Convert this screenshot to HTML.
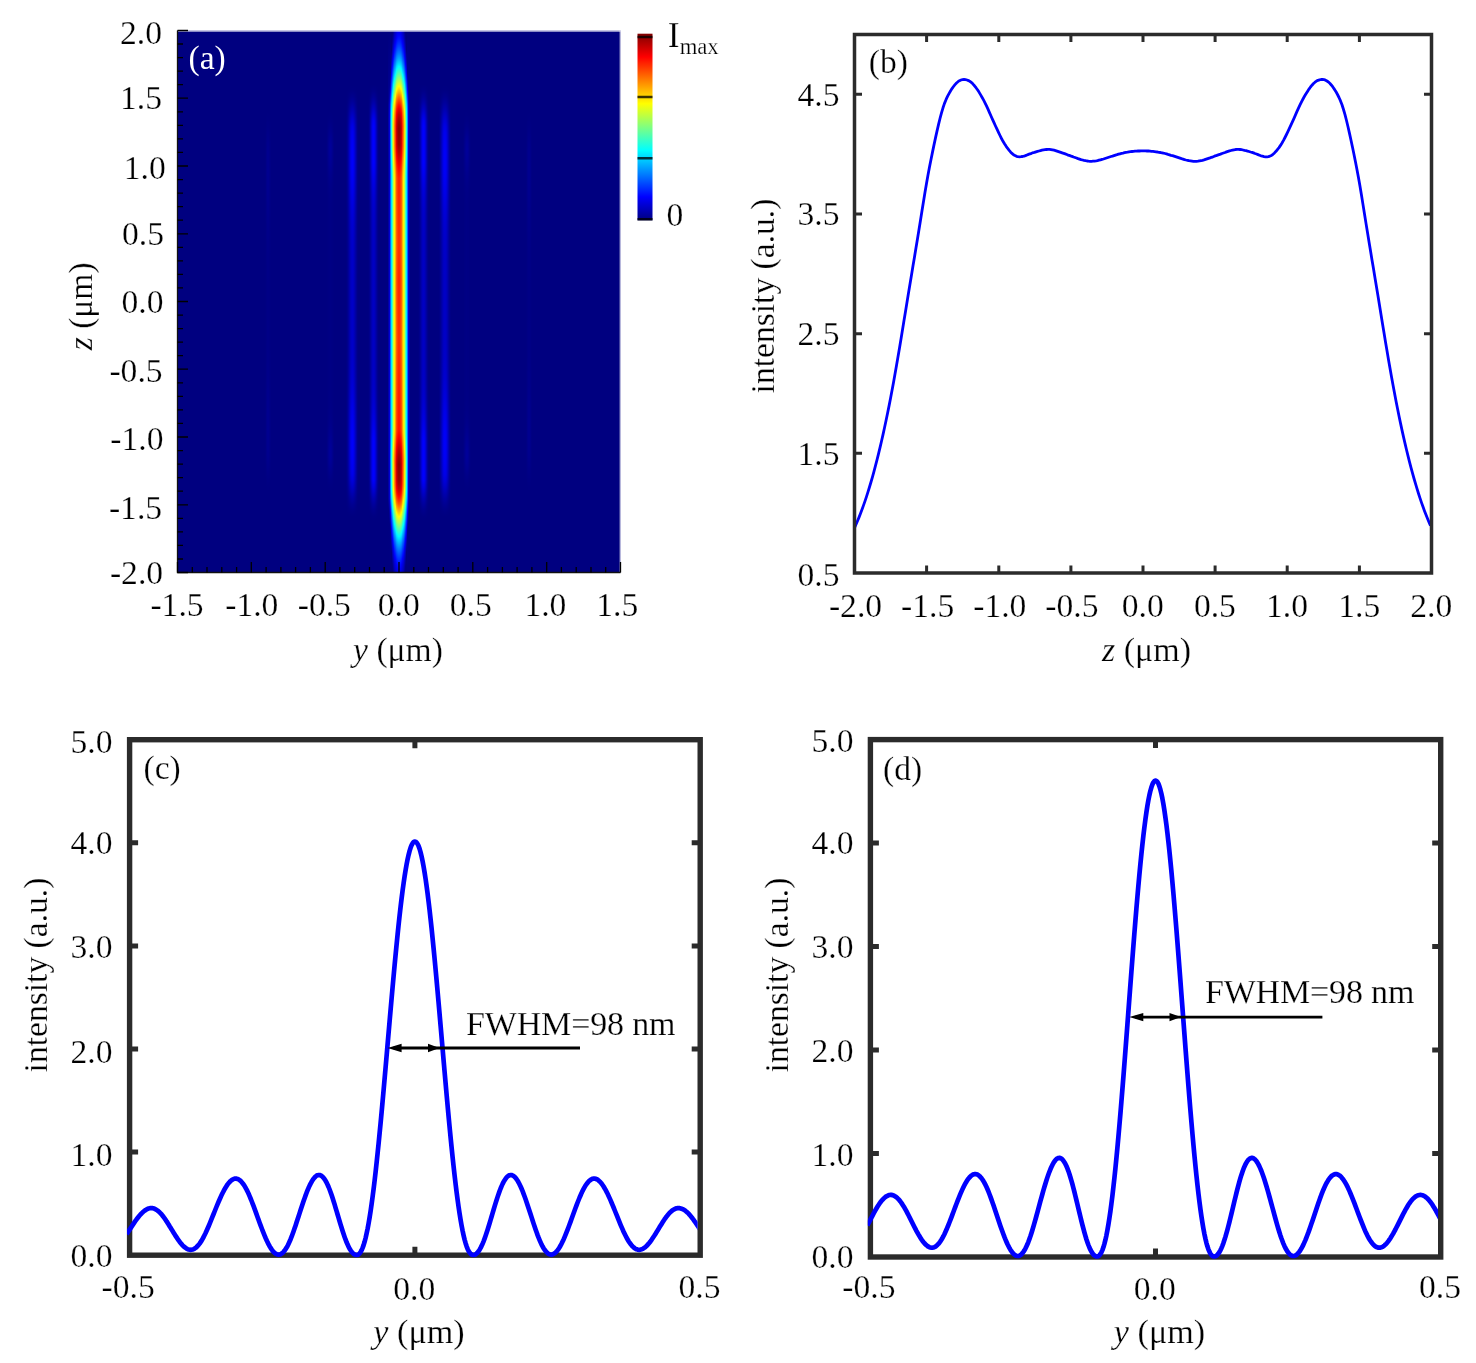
<!DOCTYPE html>
<html><head><meta charset="utf-8"><title>figure</title>
<style>html,body{margin:0;padding:0;background:#fff}svg{display:block;font-family:'Liberation Serif',serif;will-change:transform}.t{stroke:#fff;stroke-width:.25px;paint-order:fill stroke}</style>
</head><body>
<svg width="1476" height="1363" viewBox="0 0 1476 1363">
<defs>
<clipPath id="ca"><rect x="177.5" y="30.5" width="443" height="542"/></clipPath>
<linearGradient id="m0" x1="0" y1="0" x2="0" y2="1"><stop offset="0.0000" stop-color="#0000e9"/><stop offset="0.0074" stop-color="#0000fb"/><stop offset="0.0148" stop-color="#0011ff"/><stop offset="0.0221" stop-color="#0029ff"/><stop offset="0.0258" stop-color="#0036ff"/><stop offset="0.0295" stop-color="#0044ff"/><stop offset="0.0332" stop-color="#0053ff"/><stop offset="0.0369" stop-color="#0062ff"/><stop offset="0.0406" stop-color="#0072ff"/><stop offset="0.0443" stop-color="#0083ff"/><stop offset="0.0480" stop-color="#0095ff"/><stop offset="0.0517" stop-color="#00a8ff"/><stop offset="0.0554" stop-color="#00bcff"/><stop offset="0.0590" stop-color="#00d0ff"/><stop offset="0.0627" stop-color="#00e6ff"/><stop offset="0.0664" stop-color="#00fdff"/><stop offset="0.0701" stop-color="#15ffea"/><stop offset="0.0738" stop-color="#2effd1"/><stop offset="0.0775" stop-color="#47ffb8"/><stop offset="0.0812" stop-color="#61ff9e"/><stop offset="0.0849" stop-color="#7bff84"/><stop offset="0.0886" stop-color="#95ff6a"/><stop offset="0.0923" stop-color="#b0ff4f"/><stop offset="0.0959" stop-color="#caff35"/><stop offset="0.0996" stop-color="#e5ff1a"/><stop offset="0.1033" stop-color="#ffff00"/><stop offset="0.1070" stop-color="#ffe500"/><stop offset="0.1107" stop-color="#ffca00"/><stop offset="0.1144" stop-color="#ffaf00"/><stop offset="0.1181" stop-color="#ff9300"/><stop offset="0.1218" stop-color="#ff7800"/><stop offset="0.1255" stop-color="#ff5e00"/><stop offset="0.1292" stop-color="#ff4600"/><stop offset="0.1328" stop-color="#ff2f00"/><stop offset="0.1365" stop-color="#ff1900"/><stop offset="0.1402" stop-color="#ff0400"/><stop offset="0.1439" stop-color="#ef0000"/><stop offset="0.1476" stop-color="#dd0000"/><stop offset="0.1513" stop-color="#cc0000"/><stop offset="0.1550" stop-color="#be0000"/><stop offset="0.1624" stop-color="#a90000"/><stop offset="0.1697" stop-color="#9a0000"/><stop offset="0.1808" stop-color="#8b0000"/><stop offset="0.2103" stop-color="#990000"/><stop offset="0.2177" stop-color="#a60000"/><stop offset="0.2251" stop-color="#b60000"/><stop offset="0.2325" stop-color="#c90000"/><stop offset="0.2399" stop-color="#de0000"/><stop offset="0.2472" stop-color="#f10000"/><stop offset="0.2546" stop-color="#ff0400"/><stop offset="0.2620" stop-color="#ff1400"/><stop offset="0.2731" stop-color="#ff2400"/><stop offset="0.3948" stop-color="#ff3200"/><stop offset="0.4613" stop-color="#ff2400"/><stop offset="0.5720" stop-color="#ff3100"/><stop offset="0.6384" stop-color="#ff2300"/><stop offset="0.7380" stop-color="#ff1400"/><stop offset="0.7454" stop-color="#ff0400"/><stop offset="0.7528" stop-color="#f10000"/><stop offset="0.7601" stop-color="#de0000"/><stop offset="0.7675" stop-color="#c90000"/><stop offset="0.7749" stop-color="#b60000"/><stop offset="0.7823" stop-color="#a60000"/><stop offset="0.7897" stop-color="#990000"/><stop offset="0.8007" stop-color="#8b0000"/><stop offset="0.8303" stop-color="#9a0000"/><stop offset="0.8376" stop-color="#a90000"/><stop offset="0.8450" stop-color="#be0000"/><stop offset="0.8487" stop-color="#cc0000"/><stop offset="0.8524" stop-color="#dd0000"/><stop offset="0.8561" stop-color="#ef0000"/><stop offset="0.8598" stop-color="#ff0400"/><stop offset="0.8635" stop-color="#ff1900"/><stop offset="0.8672" stop-color="#ff2f00"/><stop offset="0.8708" stop-color="#ff4600"/><stop offset="0.8745" stop-color="#ff5e00"/><stop offset="0.8782" stop-color="#ff7800"/><stop offset="0.8819" stop-color="#ff9300"/><stop offset="0.8856" stop-color="#ffaf00"/><stop offset="0.8893" stop-color="#ffca00"/><stop offset="0.8930" stop-color="#ffe500"/><stop offset="0.8967" stop-color="#ffff00"/><stop offset="0.9004" stop-color="#e5ff1a"/><stop offset="0.9041" stop-color="#caff35"/><stop offset="0.9077" stop-color="#b0ff4f"/><stop offset="0.9114" stop-color="#95ff6a"/><stop offset="0.9151" stop-color="#7bff84"/><stop offset="0.9188" stop-color="#61ff9e"/><stop offset="0.9225" stop-color="#47ffb8"/><stop offset="0.9262" stop-color="#2effd1"/><stop offset="0.9299" stop-color="#15ffea"/><stop offset="0.9336" stop-color="#00fdff"/><stop offset="0.9373" stop-color="#00e6ff"/><stop offset="0.9410" stop-color="#00d0ff"/><stop offset="0.9446" stop-color="#00bcff"/><stop offset="0.9483" stop-color="#00a8ff"/><stop offset="0.9520" stop-color="#0095ff"/><stop offset="0.9557" stop-color="#0083ff"/><stop offset="0.9594" stop-color="#0072ff"/><stop offset="0.9631" stop-color="#0062ff"/><stop offset="0.9668" stop-color="#0053ff"/><stop offset="0.9705" stop-color="#0044ff"/><stop offset="0.9742" stop-color="#0036ff"/><stop offset="0.9779" stop-color="#0029ff"/><stop offset="0.9815" stop-color="#001dff"/><stop offset="0.9889" stop-color="#0006ff"/><stop offset="0.9963" stop-color="#0000f2"/><stop offset="1.0000" stop-color="#0000e9"/></linearGradient>
<linearGradient id="m1" x1="0" y1="0" x2="0" y2="1"><stop offset="0.0000" stop-color="#0000e3"/><stop offset="0.0074" stop-color="#0000f5"/><stop offset="0.0148" stop-color="#000aff"/><stop offset="0.0221" stop-color="#0021ff"/><stop offset="0.0258" stop-color="#002eff"/><stop offset="0.0295" stop-color="#003bff"/><stop offset="0.0332" stop-color="#004aff"/><stop offset="0.0369" stop-color="#0059ff"/><stop offset="0.0406" stop-color="#0069ff"/><stop offset="0.0443" stop-color="#0079ff"/><stop offset="0.0480" stop-color="#008bff"/><stop offset="0.0517" stop-color="#009dff"/><stop offset="0.0554" stop-color="#00b1ff"/><stop offset="0.0590" stop-color="#00c5ff"/><stop offset="0.0627" stop-color="#00daff"/><stop offset="0.0664" stop-color="#00f0ff"/><stop offset="0.0701" stop-color="#08fff7"/><stop offset="0.0738" stop-color="#20ffdf"/><stop offset="0.0775" stop-color="#39ffc6"/><stop offset="0.0812" stop-color="#52ffad"/><stop offset="0.0849" stop-color="#6bff94"/><stop offset="0.0886" stop-color="#85ff7a"/><stop offset="0.0923" stop-color="#a0ff5f"/><stop offset="0.0959" stop-color="#baff45"/><stop offset="0.0996" stop-color="#d3ff2c"/><stop offset="0.1033" stop-color="#edff12"/><stop offset="0.1070" stop-color="#fff700"/><stop offset="0.1107" stop-color="#ffdd00"/><stop offset="0.1144" stop-color="#ffc200"/><stop offset="0.1181" stop-color="#ffa700"/><stop offset="0.1218" stop-color="#ff8c00"/><stop offset="0.1255" stop-color="#ff7200"/><stop offset="0.1292" stop-color="#ff5a00"/><stop offset="0.1328" stop-color="#ff4400"/><stop offset="0.1365" stop-color="#ff2e00"/><stop offset="0.1402" stop-color="#ff1a00"/><stop offset="0.1439" stop-color="#ff0600"/><stop offset="0.1476" stop-color="#f30000"/><stop offset="0.1513" stop-color="#e30000"/><stop offset="0.1550" stop-color="#d50000"/><stop offset="0.1624" stop-color="#c00000"/><stop offset="0.1697" stop-color="#b10000"/><stop offset="0.1808" stop-color="#a30000"/><stop offset="0.2103" stop-color="#b00000"/><stop offset="0.2177" stop-color="#be0000"/><stop offset="0.2251" stop-color="#cd0000"/><stop offset="0.2325" stop-color="#e00000"/><stop offset="0.2399" stop-color="#f40000"/><stop offset="0.2472" stop-color="#ff0800"/><stop offset="0.2546" stop-color="#ff1a00"/><stop offset="0.2620" stop-color="#ff2900"/><stop offset="0.2731" stop-color="#ff3900"/><stop offset="0.3948" stop-color="#ff4600"/><stop offset="0.4613" stop-color="#ff3900"/><stop offset="0.5756" stop-color="#ff4600"/><stop offset="0.6347" stop-color="#ff3a00"/><stop offset="0.7380" stop-color="#ff2900"/><stop offset="0.7454" stop-color="#ff1a00"/><stop offset="0.7528" stop-color="#ff0800"/><stop offset="0.7601" stop-color="#f40000"/><stop offset="0.7675" stop-color="#e00000"/><stop offset="0.7749" stop-color="#cd0000"/><stop offset="0.7823" stop-color="#be0000"/><stop offset="0.7897" stop-color="#b00000"/><stop offset="0.8007" stop-color="#a30000"/><stop offset="0.8303" stop-color="#b10000"/><stop offset="0.8376" stop-color="#c00000"/><stop offset="0.8450" stop-color="#d50000"/><stop offset="0.8487" stop-color="#e30000"/><stop offset="0.8524" stop-color="#f30000"/><stop offset="0.8561" stop-color="#ff0600"/><stop offset="0.8598" stop-color="#ff1a00"/><stop offset="0.8635" stop-color="#ff2e00"/><stop offset="0.8672" stop-color="#ff4400"/><stop offset="0.8708" stop-color="#ff5a00"/><stop offset="0.8745" stop-color="#ff7200"/><stop offset="0.8782" stop-color="#ff8c00"/><stop offset="0.8819" stop-color="#ffa700"/><stop offset="0.8856" stop-color="#ffc200"/><stop offset="0.8893" stop-color="#ffdd00"/><stop offset="0.8930" stop-color="#fff700"/><stop offset="0.8967" stop-color="#edff12"/><stop offset="0.9004" stop-color="#d3ff2c"/><stop offset="0.9041" stop-color="#baff45"/><stop offset="0.9077" stop-color="#a0ff5f"/><stop offset="0.9114" stop-color="#85ff7a"/><stop offset="0.9151" stop-color="#6bff94"/><stop offset="0.9188" stop-color="#52ffad"/><stop offset="0.9225" stop-color="#39ffc6"/><stop offset="0.9262" stop-color="#20ffdf"/><stop offset="0.9299" stop-color="#08fff7"/><stop offset="0.9336" stop-color="#00f0ff"/><stop offset="0.9373" stop-color="#00daff"/><stop offset="0.9410" stop-color="#00c5ff"/><stop offset="0.9446" stop-color="#00b1ff"/><stop offset="0.9483" stop-color="#009dff"/><stop offset="0.9520" stop-color="#008bff"/><stop offset="0.9557" stop-color="#0079ff"/><stop offset="0.9594" stop-color="#0069ff"/><stop offset="0.9631" stop-color="#0059ff"/><stop offset="0.9668" stop-color="#004aff"/><stop offset="0.9705" stop-color="#003bff"/><stop offset="0.9742" stop-color="#002eff"/><stop offset="0.9779" stop-color="#0021ff"/><stop offset="0.9852" stop-color="#000aff"/><stop offset="0.9926" stop-color="#0000f5"/><stop offset="1.0000" stop-color="#0000e3"/></linearGradient>
<linearGradient id="m2" x1="0" y1="0" x2="0" y2="1"><stop offset="0.0000" stop-color="#0000d4"/><stop offset="0.0074" stop-color="#0000e5"/><stop offset="0.0148" stop-color="#0000f8"/><stop offset="0.0221" stop-color="#0010ff"/><stop offset="0.0258" stop-color="#001cff"/><stop offset="0.0295" stop-color="#0029ff"/><stop offset="0.0332" stop-color="#0037ff"/><stop offset="0.0369" stop-color="#0045ff"/><stop offset="0.0406" stop-color="#0055ff"/><stop offset="0.0443" stop-color="#0065ff"/><stop offset="0.0480" stop-color="#0076ff"/><stop offset="0.0517" stop-color="#0088ff"/><stop offset="0.0554" stop-color="#009aff"/><stop offset="0.0590" stop-color="#00aeff"/><stop offset="0.0627" stop-color="#00c2ff"/><stop offset="0.0664" stop-color="#00d8ff"/><stop offset="0.0701" stop-color="#00eeff"/><stop offset="0.0738" stop-color="#06fff9"/><stop offset="0.0775" stop-color="#1effe1"/><stop offset="0.0812" stop-color="#37ffc8"/><stop offset="0.0849" stop-color="#50ffaf"/><stop offset="0.0886" stop-color="#69ff96"/><stop offset="0.0923" stop-color="#83ff7c"/><stop offset="0.0959" stop-color="#9cff63"/><stop offset="0.0996" stop-color="#b6ff49"/><stop offset="0.1033" stop-color="#cfff30"/><stop offset="0.1070" stop-color="#e8ff17"/><stop offset="0.1107" stop-color="#fffc00"/><stop offset="0.1144" stop-color="#ffe200"/><stop offset="0.1181" stop-color="#ffc700"/><stop offset="0.1218" stop-color="#ffad00"/><stop offset="0.1255" stop-color="#ff9400"/><stop offset="0.1292" stop-color="#ff7c00"/><stop offset="0.1328" stop-color="#ff6700"/><stop offset="0.1365" stop-color="#ff5200"/><stop offset="0.1402" stop-color="#ff3e00"/><stop offset="0.1439" stop-color="#ff2b00"/><stop offset="0.1476" stop-color="#ff1900"/><stop offset="0.1513" stop-color="#ff0900"/><stop offset="0.1550" stop-color="#fb0000"/><stop offset="0.1624" stop-color="#e70000"/><stop offset="0.1697" stop-color="#d90000"/><stop offset="0.1808" stop-color="#cc0000"/><stop offset="0.2103" stop-color="#d80000"/><stop offset="0.2177" stop-color="#e50000"/><stop offset="0.2251" stop-color="#f40000"/><stop offset="0.2325" stop-color="#ff0700"/><stop offset="0.2399" stop-color="#ff1a00"/><stop offset="0.2472" stop-color="#ff2c00"/><stop offset="0.2546" stop-color="#ff3e00"/><stop offset="0.2620" stop-color="#ff4c00"/><stop offset="0.2731" stop-color="#ff5b00"/><stop offset="0.3948" stop-color="#ff6800"/><stop offset="0.4613" stop-color="#ff5c00"/><stop offset="0.5756" stop-color="#ff6900"/><stop offset="0.6384" stop-color="#ff5b00"/><stop offset="0.7380" stop-color="#ff4c00"/><stop offset="0.7454" stop-color="#ff3e00"/><stop offset="0.7528" stop-color="#ff2c00"/><stop offset="0.7601" stop-color="#ff1a00"/><stop offset="0.7675" stop-color="#ff0700"/><stop offset="0.7749" stop-color="#f40000"/><stop offset="0.7823" stop-color="#e50000"/><stop offset="0.7897" stop-color="#d80000"/><stop offset="0.8007" stop-color="#cc0000"/><stop offset="0.8303" stop-color="#d90000"/><stop offset="0.8376" stop-color="#e70000"/><stop offset="0.8450" stop-color="#fb0000"/><stop offset="0.8487" stop-color="#ff0900"/><stop offset="0.8524" stop-color="#ff1900"/><stop offset="0.8561" stop-color="#ff2b00"/><stop offset="0.8598" stop-color="#ff3e00"/><stop offset="0.8635" stop-color="#ff5200"/><stop offset="0.8672" stop-color="#ff6700"/><stop offset="0.8708" stop-color="#ff7c00"/><stop offset="0.8745" stop-color="#ff9400"/><stop offset="0.8782" stop-color="#ffad00"/><stop offset="0.8819" stop-color="#ffc700"/><stop offset="0.8856" stop-color="#ffe200"/><stop offset="0.8893" stop-color="#fffc00"/><stop offset="0.8930" stop-color="#e8ff17"/><stop offset="0.8967" stop-color="#cfff30"/><stop offset="0.9004" stop-color="#b6ff49"/><stop offset="0.9041" stop-color="#9cff63"/><stop offset="0.9077" stop-color="#83ff7c"/><stop offset="0.9114" stop-color="#69ff96"/><stop offset="0.9151" stop-color="#50ffaf"/><stop offset="0.9188" stop-color="#37ffc8"/><stop offset="0.9225" stop-color="#1effe1"/><stop offset="0.9262" stop-color="#06fff9"/><stop offset="0.9299" stop-color="#00eeff"/><stop offset="0.9336" stop-color="#00d8ff"/><stop offset="0.9373" stop-color="#00c2ff"/><stop offset="0.9410" stop-color="#00aeff"/><stop offset="0.9446" stop-color="#009aff"/><stop offset="0.9483" stop-color="#0088ff"/><stop offset="0.9520" stop-color="#0076ff"/><stop offset="0.9557" stop-color="#0065ff"/><stop offset="0.9594" stop-color="#0055ff"/><stop offset="0.9631" stop-color="#0045ff"/><stop offset="0.9668" stop-color="#0037ff"/><stop offset="0.9705" stop-color="#0029ff"/><stop offset="0.9742" stop-color="#001cff"/><stop offset="0.9779" stop-color="#0010ff"/><stop offset="0.9852" stop-color="#0000f8"/><stop offset="0.9926" stop-color="#0000e5"/><stop offset="1.0000" stop-color="#0000d4"/></linearGradient>
<linearGradient id="m3" x1="0" y1="0" x2="0" y2="1"><stop offset="0.0000" stop-color="#0000c2"/><stop offset="0.0074" stop-color="#0000d1"/><stop offset="0.0148" stop-color="#0000e2"/><stop offset="0.0221" stop-color="#0000f6"/><stop offset="0.0295" stop-color="#000eff"/><stop offset="0.0369" stop-color="#0027ff"/><stop offset="0.0406" stop-color="#0035ff"/><stop offset="0.0443" stop-color="#0043ff"/><stop offset="0.0480" stop-color="#0052ff"/><stop offset="0.0517" stop-color="#0062ff"/><stop offset="0.0554" stop-color="#0073ff"/><stop offset="0.0590" stop-color="#0084ff"/><stop offset="0.0627" stop-color="#0097ff"/><stop offset="0.0664" stop-color="#00aaff"/><stop offset="0.0701" stop-color="#00beff"/><stop offset="0.0738" stop-color="#00d3ff"/><stop offset="0.0775" stop-color="#00e9ff"/><stop offset="0.0812" stop-color="#00ffff"/><stop offset="0.0849" stop-color="#17ffe8"/><stop offset="0.0886" stop-color="#2effd1"/><stop offset="0.0923" stop-color="#45ffba"/><stop offset="0.0959" stop-color="#5cffa3"/><stop offset="0.0996" stop-color="#74ff8b"/><stop offset="0.1033" stop-color="#8bff74"/><stop offset="0.1070" stop-color="#a2ff5d"/><stop offset="0.1107" stop-color="#baff45"/><stop offset="0.1144" stop-color="#d2ff2d"/><stop offset="0.1181" stop-color="#ebff14"/><stop offset="0.1218" stop-color="#fffa00"/><stop offset="0.1255" stop-color="#ffe300"/><stop offset="0.1292" stop-color="#ffcd00"/><stop offset="0.1328" stop-color="#ffb800"/><stop offset="0.1365" stop-color="#ffa400"/><stop offset="0.1402" stop-color="#ff9200"/><stop offset="0.1439" stop-color="#ff8100"/><stop offset="0.1476" stop-color="#ff7100"/><stop offset="0.1513" stop-color="#ff6200"/><stop offset="0.1587" stop-color="#ff4c00"/><stop offset="0.1661" stop-color="#ff3d00"/><stop offset="0.1771" stop-color="#ff2e00"/><stop offset="0.2140" stop-color="#ff3c00"/><stop offset="0.2214" stop-color="#ff4900"/><stop offset="0.2288" stop-color="#ff5800"/><stop offset="0.2362" stop-color="#ff6900"/><stop offset="0.2435" stop-color="#ff7a00"/><stop offset="0.2509" stop-color="#ff8a00"/><stop offset="0.2583" stop-color="#ff9900"/><stop offset="0.2694" stop-color="#ffa900"/><stop offset="0.3875" stop-color="#ffb600"/><stop offset="0.4797" stop-color="#ffa900"/><stop offset="0.5683" stop-color="#ffb600"/><stop offset="0.6458" stop-color="#ffaa00"/><stop offset="0.7417" stop-color="#ff9900"/><stop offset="0.7491" stop-color="#ff8a00"/><stop offset="0.7565" stop-color="#ff7a00"/><stop offset="0.7638" stop-color="#ff6900"/><stop offset="0.7712" stop-color="#ff5800"/><stop offset="0.7786" stop-color="#ff4900"/><stop offset="0.7860" stop-color="#ff3c00"/><stop offset="0.7970" stop-color="#ff2e00"/><stop offset="0.8339" stop-color="#ff3d00"/><stop offset="0.8413" stop-color="#ff4c00"/><stop offset="0.8487" stop-color="#ff6200"/><stop offset="0.8524" stop-color="#ff7100"/><stop offset="0.8561" stop-color="#ff8100"/><stop offset="0.8598" stop-color="#ff9200"/><stop offset="0.8635" stop-color="#ffa400"/><stop offset="0.8672" stop-color="#ffb800"/><stop offset="0.8708" stop-color="#ffcd00"/><stop offset="0.8745" stop-color="#ffe300"/><stop offset="0.8782" stop-color="#fffa00"/><stop offset="0.8819" stop-color="#ebff14"/><stop offset="0.8856" stop-color="#d2ff2d"/><stop offset="0.8893" stop-color="#baff45"/><stop offset="0.8930" stop-color="#a2ff5d"/><stop offset="0.8967" stop-color="#8bff74"/><stop offset="0.9004" stop-color="#74ff8b"/><stop offset="0.9041" stop-color="#5cffa3"/><stop offset="0.9077" stop-color="#45ffba"/><stop offset="0.9114" stop-color="#2effd1"/><stop offset="0.9151" stop-color="#17ffe8"/><stop offset="0.9188" stop-color="#00ffff"/><stop offset="0.9225" stop-color="#00e9ff"/><stop offset="0.9262" stop-color="#00d3ff"/><stop offset="0.9299" stop-color="#00beff"/><stop offset="0.9336" stop-color="#00aaff"/><stop offset="0.9373" stop-color="#0097ff"/><stop offset="0.9410" stop-color="#0084ff"/><stop offset="0.9446" stop-color="#0073ff"/><stop offset="0.9483" stop-color="#0062ff"/><stop offset="0.9520" stop-color="#0052ff"/><stop offset="0.9557" stop-color="#0043ff"/><stop offset="0.9594" stop-color="#0035ff"/><stop offset="0.9631" stop-color="#0027ff"/><stop offset="0.9668" stop-color="#001aff"/><stop offset="0.9742" stop-color="#0002ff"/><stop offset="0.9815" stop-color="#0000ec"/><stop offset="0.9889" stop-color="#0000d9"/><stop offset="0.9963" stop-color="#0000c9"/><stop offset="1.0000" stop-color="#0000c2"/></linearGradient>
<linearGradient id="m4" x1="0" y1="0" x2="0" y2="1"><stop offset="0.0000" stop-color="#0000ae"/><stop offset="0.0074" stop-color="#0000bc"/><stop offset="0.0148" stop-color="#0000cc"/><stop offset="0.0221" stop-color="#0000df"/><stop offset="0.0295" stop-color="#0000f3"/><stop offset="0.0369" stop-color="#000cff"/><stop offset="0.0406" stop-color="#0018ff"/><stop offset="0.0443" stop-color="#0025ff"/><stop offset="0.0480" stop-color="#0033ff"/><stop offset="0.0517" stop-color="#0042ff"/><stop offset="0.0554" stop-color="#0052ff"/><stop offset="0.0590" stop-color="#0062ff"/><stop offset="0.0627" stop-color="#0073ff"/><stop offset="0.0664" stop-color="#0085ff"/><stop offset="0.0701" stop-color="#0097ff"/><stop offset="0.0738" stop-color="#00abff"/><stop offset="0.0775" stop-color="#00bfff"/><stop offset="0.0812" stop-color="#00d3ff"/><stop offset="0.0849" stop-color="#00e8ff"/><stop offset="0.0886" stop-color="#00feff"/><stop offset="0.0923" stop-color="#14ffeb"/><stop offset="0.0959" stop-color="#2affd5"/><stop offset="0.0996" stop-color="#3fffc0"/><stop offset="0.1033" stop-color="#55ffaa"/><stop offset="0.1070" stop-color="#6bff94"/><stop offset="0.1107" stop-color="#81ff7e"/><stop offset="0.1144" stop-color="#97ff68"/><stop offset="0.1181" stop-color="#aeff51"/><stop offset="0.1218" stop-color="#c5ff3a"/><stop offset="0.1255" stop-color="#dbff24"/><stop offset="0.1292" stop-color="#efff10"/><stop offset="0.1328" stop-color="#fffb00"/><stop offset="0.1365" stop-color="#ffe900"/><stop offset="0.1402" stop-color="#ffd800"/><stop offset="0.1439" stop-color="#ffc800"/><stop offset="0.1476" stop-color="#ffba00"/><stop offset="0.1513" stop-color="#ffad00"/><stop offset="0.1587" stop-color="#ff9800"/><stop offset="0.1661" stop-color="#ff8b00"/><stop offset="0.1771" stop-color="#ff7d00"/><stop offset="0.2140" stop-color="#ff8a00"/><stop offset="0.2251" stop-color="#ff9c00"/><stop offset="0.2325" stop-color="#ffab00"/><stop offset="0.2399" stop-color="#ffba00"/><stop offset="0.2472" stop-color="#ffca00"/><stop offset="0.2546" stop-color="#ffd800"/><stop offset="0.2657" stop-color="#ffe900"/><stop offset="0.2804" stop-color="#fff500"/><stop offset="0.7343" stop-color="#ffe900"/><stop offset="0.7454" stop-color="#ffd800"/><stop offset="0.7528" stop-color="#ffca00"/><stop offset="0.7601" stop-color="#ffba00"/><stop offset="0.7675" stop-color="#ffab00"/><stop offset="0.7749" stop-color="#ff9c00"/><stop offset="0.7823" stop-color="#ff8f00"/><stop offset="0.7934" stop-color="#ff8000"/><stop offset="0.8376" stop-color="#ff9100"/><stop offset="0.8450" stop-color="#ffa100"/><stop offset="0.8524" stop-color="#ffba00"/><stop offset="0.8561" stop-color="#ffc800"/><stop offset="0.8598" stop-color="#ffd800"/><stop offset="0.8635" stop-color="#ffe900"/><stop offset="0.8672" stop-color="#fffb00"/><stop offset="0.8708" stop-color="#efff10"/><stop offset="0.8745" stop-color="#dbff24"/><stop offset="0.8782" stop-color="#c5ff3a"/><stop offset="0.8819" stop-color="#aeff51"/><stop offset="0.8856" stop-color="#97ff68"/><stop offset="0.8893" stop-color="#81ff7e"/><stop offset="0.8930" stop-color="#6bff94"/><stop offset="0.8967" stop-color="#55ffaa"/><stop offset="0.9004" stop-color="#3fffc0"/><stop offset="0.9041" stop-color="#2affd5"/><stop offset="0.9077" stop-color="#14ffeb"/><stop offset="0.9114" stop-color="#00feff"/><stop offset="0.9151" stop-color="#00e8ff"/><stop offset="0.9188" stop-color="#00d3ff"/><stop offset="0.9225" stop-color="#00bfff"/><stop offset="0.9262" stop-color="#00abff"/><stop offset="0.9299" stop-color="#0097ff"/><stop offset="0.9336" stop-color="#0085ff"/><stop offset="0.9373" stop-color="#0073ff"/><stop offset="0.9410" stop-color="#0062ff"/><stop offset="0.9446" stop-color="#0052ff"/><stop offset="0.9483" stop-color="#0042ff"/><stop offset="0.9520" stop-color="#0033ff"/><stop offset="0.9557" stop-color="#0025ff"/><stop offset="0.9594" stop-color="#0018ff"/><stop offset="0.9631" stop-color="#000cff"/><stop offset="0.9705" stop-color="#0000f3"/><stop offset="0.9779" stop-color="#0000df"/><stop offset="0.9852" stop-color="#0000cc"/><stop offset="0.9926" stop-color="#0000bc"/><stop offset="1.0000" stop-color="#0000ae"/></linearGradient>
<linearGradient id="m5" x1="0" y1="0" x2="0" y2="1"><stop offset="0.0000" stop-color="#000092"/><stop offset="0.0111" stop-color="#0000a4"/><stop offset="0.0185" stop-color="#0000b2"/><stop offset="0.0258" stop-color="#0000c3"/><stop offset="0.0332" stop-color="#0000d5"/><stop offset="0.0406" stop-color="#0000eb"/><stop offset="0.0480" stop-color="#0004ff"/><stop offset="0.0517" stop-color="#0011ff"/><stop offset="0.0554" stop-color="#001eff"/><stop offset="0.0590" stop-color="#002dff"/><stop offset="0.0627" stop-color="#003cff"/><stop offset="0.0664" stop-color="#004dff"/><stop offset="0.0701" stop-color="#005eff"/><stop offset="0.0738" stop-color="#006fff"/><stop offset="0.0775" stop-color="#0082ff"/><stop offset="0.0812" stop-color="#0095ff"/><stop offset="0.0849" stop-color="#00a9ff"/><stop offset="0.0886" stop-color="#00bdff"/><stop offset="0.0923" stop-color="#00d1ff"/><stop offset="0.0959" stop-color="#00e5ff"/><stop offset="0.0996" stop-color="#00faff"/><stop offset="0.1033" stop-color="#10ffef"/><stop offset="0.1070" stop-color="#24ffdb"/><stop offset="0.1107" stop-color="#39ffc6"/><stop offset="0.1144" stop-color="#4fffb0"/><stop offset="0.1181" stop-color="#65ff9a"/><stop offset="0.1218" stop-color="#7bff84"/><stop offset="0.1255" stop-color="#90ff6f"/><stop offset="0.1292" stop-color="#a4ff5b"/><stop offset="0.1328" stop-color="#b7ff48"/><stop offset="0.1365" stop-color="#c9ff36"/><stop offset="0.1402" stop-color="#d9ff26"/><stop offset="0.1439" stop-color="#e7ff18"/><stop offset="0.1476" stop-color="#f4ff0b"/><stop offset="0.1550" stop-color="#fff400"/><stop offset="0.1624" stop-color="#ffe600"/><stop offset="0.1734" stop-color="#ffd700"/><stop offset="0.2177" stop-color="#ffe400"/><stop offset="0.2288" stop-color="#fff600"/><stop offset="0.2362" stop-color="#faff05"/><stop offset="0.2435" stop-color="#ecff13"/><stop offset="0.2509" stop-color="#dfff20"/><stop offset="0.2620" stop-color="#ceff31"/><stop offset="0.2768" stop-color="#c0ff3f"/><stop offset="0.7380" stop-color="#ceff31"/><stop offset="0.7491" stop-color="#dfff20"/><stop offset="0.7565" stop-color="#ecff13"/><stop offset="0.7638" stop-color="#faff05"/><stop offset="0.7712" stop-color="#fff600"/><stop offset="0.7786" stop-color="#ffea00"/><stop offset="0.7897" stop-color="#ffdb00"/><stop offset="0.8413" stop-color="#ffec00"/><stop offset="0.8487" stop-color="#fffe00"/><stop offset="0.8561" stop-color="#e7ff18"/><stop offset="0.8598" stop-color="#d9ff26"/><stop offset="0.8635" stop-color="#c9ff36"/><stop offset="0.8672" stop-color="#b7ff48"/><stop offset="0.8708" stop-color="#a4ff5b"/><stop offset="0.8745" stop-color="#90ff6f"/><stop offset="0.8782" stop-color="#7bff84"/><stop offset="0.8819" stop-color="#65ff9a"/><stop offset="0.8856" stop-color="#4fffb0"/><stop offset="0.8893" stop-color="#39ffc6"/><stop offset="0.8930" stop-color="#24ffdb"/><stop offset="0.8967" stop-color="#10ffef"/><stop offset="0.9004" stop-color="#00faff"/><stop offset="0.9041" stop-color="#00e5ff"/><stop offset="0.9077" stop-color="#00d1ff"/><stop offset="0.9114" stop-color="#00bdff"/><stop offset="0.9151" stop-color="#00a9ff"/><stop offset="0.9188" stop-color="#0095ff"/><stop offset="0.9225" stop-color="#0082ff"/><stop offset="0.9262" stop-color="#006fff"/><stop offset="0.9299" stop-color="#005eff"/><stop offset="0.9336" stop-color="#004dff"/><stop offset="0.9373" stop-color="#003cff"/><stop offset="0.9410" stop-color="#002dff"/><stop offset="0.9446" stop-color="#001eff"/><stop offset="0.9483" stop-color="#0011ff"/><stop offset="0.9520" stop-color="#0004ff"/><stop offset="0.9557" stop-color="#0000f6"/><stop offset="0.9631" stop-color="#0000e0"/><stop offset="0.9705" stop-color="#0000cc"/><stop offset="0.9779" stop-color="#0000ba"/><stop offset="0.9852" stop-color="#0000ab"/><stop offset="0.9926" stop-color="#00009d"/><stop offset="1.0000" stop-color="#000092"/></linearGradient>
<linearGradient id="m6" x1="0" y1="0" x2="0" y2="1"><stop offset="0.0000" stop-color="#000080"/><stop offset="0.0185" stop-color="#000090"/><stop offset="0.0258" stop-color="#00009d"/><stop offset="0.0332" stop-color="#0000ac"/><stop offset="0.0406" stop-color="#0000bd"/><stop offset="0.0480" stop-color="#0000d1"/><stop offset="0.0554" stop-color="#0000e7"/><stop offset="0.0627" stop-color="#0000ff"/><stop offset="0.0664" stop-color="#000dff"/><stop offset="0.0701" stop-color="#001bff"/><stop offset="0.0738" stop-color="#002aff"/><stop offset="0.0775" stop-color="#0039ff"/><stop offset="0.0812" stop-color="#0049ff"/><stop offset="0.0849" stop-color="#005aff"/><stop offset="0.0886" stop-color="#006aff"/><stop offset="0.0923" stop-color="#007bff"/><stop offset="0.0959" stop-color="#008dff"/><stop offset="0.0996" stop-color="#009eff"/><stop offset="0.1033" stop-color="#00afff"/><stop offset="0.1070" stop-color="#00c1ff"/><stop offset="0.1107" stop-color="#00d3ff"/><stop offset="0.1144" stop-color="#00e6ff"/><stop offset="0.1181" stop-color="#00f9ff"/><stop offset="0.1218" stop-color="#0efff1"/><stop offset="0.1255" stop-color="#21ffde"/><stop offset="0.1292" stop-color="#33ffcc"/><stop offset="0.1328" stop-color="#44ffbb"/><stop offset="0.1365" stop-color="#55ffaa"/><stop offset="0.1402" stop-color="#62ff9d"/><stop offset="0.1476" stop-color="#78ff87"/><stop offset="0.1550" stop-color="#8aff75"/><stop offset="0.1661" stop-color="#9bff64"/><stop offset="0.1808" stop-color="#a8ff57"/><stop offset="0.2177" stop-color="#98ff67"/><stop offset="0.2288" stop-color="#89ff76"/><stop offset="0.2399" stop-color="#78ff87"/><stop offset="0.2509" stop-color="#67ff98"/><stop offset="0.2620" stop-color="#59ffa6"/><stop offset="0.2804" stop-color="#4cffb3"/><stop offset="0.7380" stop-color="#59ffa6"/><stop offset="0.7491" stop-color="#67ff98"/><stop offset="0.7601" stop-color="#78ff87"/><stop offset="0.7712" stop-color="#89ff76"/><stop offset="0.7823" stop-color="#98ff67"/><stop offset="0.7970" stop-color="#a6ff59"/><stop offset="0.8376" stop-color="#96ff69"/><stop offset="0.8487" stop-color="#82ff7d"/><stop offset="0.8561" stop-color="#6eff91"/><stop offset="0.8635" stop-color="#55ffaa"/><stop offset="0.8672" stop-color="#44ffbb"/><stop offset="0.8708" stop-color="#33ffcc"/><stop offset="0.8745" stop-color="#21ffde"/><stop offset="0.8782" stop-color="#0efff1"/><stop offset="0.8819" stop-color="#00f9ff"/><stop offset="0.8856" stop-color="#00e6ff"/><stop offset="0.8893" stop-color="#00d3ff"/><stop offset="0.8930" stop-color="#00c1ff"/><stop offset="0.8967" stop-color="#00afff"/><stop offset="0.9004" stop-color="#009eff"/><stop offset="0.9041" stop-color="#008dff"/><stop offset="0.9077" stop-color="#007bff"/><stop offset="0.9114" stop-color="#006aff"/><stop offset="0.9151" stop-color="#005aff"/><stop offset="0.9188" stop-color="#0049ff"/><stop offset="0.9225" stop-color="#0039ff"/><stop offset="0.9262" stop-color="#002aff"/><stop offset="0.9299" stop-color="#001bff"/><stop offset="0.9336" stop-color="#000dff"/><stop offset="0.9373" stop-color="#0000ff"/><stop offset="0.9410" stop-color="#0000f3"/><stop offset="0.9483" stop-color="#0000db"/><stop offset="0.9557" stop-color="#0000c7"/><stop offset="0.9631" stop-color="#0000b5"/><stop offset="0.9705" stop-color="#0000a5"/><stop offset="0.9779" stop-color="#000097"/><stop offset="0.9889" stop-color="#000085"/><stop offset="1.0000" stop-color="#000080"/></linearGradient>
<linearGradient id="m7" x1="0" y1="0" x2="0" y2="1"><stop offset="0.0000" stop-color="#000080"/><stop offset="0.0369" stop-color="#000081"/><stop offset="0.0443" stop-color="#000091"/><stop offset="0.0517" stop-color="#0000a3"/><stop offset="0.0590" stop-color="#0000b7"/><stop offset="0.0664" stop-color="#0000cc"/><stop offset="0.0738" stop-color="#0000e4"/><stop offset="0.0775" stop-color="#0000f0"/><stop offset="0.0812" stop-color="#0000fd"/><stop offset="0.0849" stop-color="#000cff"/><stop offset="0.0886" stop-color="#001aff"/><stop offset="0.0923" stop-color="#0028ff"/><stop offset="0.0959" stop-color="#0036ff"/><stop offset="0.0996" stop-color="#0045ff"/><stop offset="0.1033" stop-color="#0054ff"/><stop offset="0.1070" stop-color="#0063ff"/><stop offset="0.1107" stop-color="#0072ff"/><stop offset="0.1144" stop-color="#0082ff"/><stop offset="0.1181" stop-color="#0092ff"/><stop offset="0.1218" stop-color="#00a3ff"/><stop offset="0.1255" stop-color="#00b3ff"/><stop offset="0.1292" stop-color="#00c3ff"/><stop offset="0.1328" stop-color="#00d2ff"/><stop offset="0.1365" stop-color="#00e1ff"/><stop offset="0.1439" stop-color="#00f5ff"/><stop offset="0.1513" stop-color="#06fff9"/><stop offset="0.1624" stop-color="#17ffe8"/><stop offset="0.1808" stop-color="#24ffdb"/><stop offset="0.2177" stop-color="#18ffe7"/><stop offset="0.2325" stop-color="#08fff7"/><stop offset="0.2435" stop-color="#00f9ff"/><stop offset="0.2546" stop-color="#00ecff"/><stop offset="0.2694" stop-color="#00e0ff"/><stop offset="0.7454" stop-color="#00ecff"/><stop offset="0.7565" stop-color="#00f9ff"/><stop offset="0.7675" stop-color="#08fff7"/><stop offset="0.7786" stop-color="#14ffeb"/><stop offset="0.7934" stop-color="#20ffdf"/><stop offset="0.8413" stop-color="#12ffed"/><stop offset="0.8524" stop-color="#00feff"/><stop offset="0.8598" stop-color="#00ecff"/><stop offset="0.8672" stop-color="#00d2ff"/><stop offset="0.8708" stop-color="#00c3ff"/><stop offset="0.8745" stop-color="#00b3ff"/><stop offset="0.8782" stop-color="#00a3ff"/><stop offset="0.8819" stop-color="#0092ff"/><stop offset="0.8856" stop-color="#0082ff"/><stop offset="0.8893" stop-color="#0072ff"/><stop offset="0.8930" stop-color="#0063ff"/><stop offset="0.8967" stop-color="#0054ff"/><stop offset="0.9004" stop-color="#0045ff"/><stop offset="0.9041" stop-color="#0036ff"/><stop offset="0.9077" stop-color="#0028ff"/><stop offset="0.9114" stop-color="#001aff"/><stop offset="0.9151" stop-color="#000cff"/><stop offset="0.9188" stop-color="#0000fd"/><stop offset="0.9225" stop-color="#0000f0"/><stop offset="0.9262" stop-color="#0000e4"/><stop offset="0.9336" stop-color="#0000cc"/><stop offset="0.9410" stop-color="#0000b7"/><stop offset="0.9483" stop-color="#0000a3"/><stop offset="0.9557" stop-color="#000091"/><stop offset="0.9631" stop-color="#000081"/><stop offset="1.0000" stop-color="#000080"/></linearGradient>
<linearGradient id="m8" x1="0" y1="0" x2="0" y2="1"><stop offset="0.0000" stop-color="#000080"/><stop offset="0.0775" stop-color="#00008f"/><stop offset="0.0849" stop-color="#0000a0"/><stop offset="0.0923" stop-color="#0000b6"/><stop offset="0.0996" stop-color="#0000cf"/><stop offset="0.1033" stop-color="#0000dc"/><stop offset="0.1070" stop-color="#0000eb"/><stop offset="0.1107" stop-color="#0000fa"/><stop offset="0.1144" stop-color="#000bff"/><stop offset="0.1181" stop-color="#001bff"/><stop offset="0.1218" stop-color="#002bff"/><stop offset="0.1255" stop-color="#003cff"/><stop offset="0.1292" stop-color="#004bff"/><stop offset="0.1328" stop-color="#005aff"/><stop offset="0.1365" stop-color="#0069ff"/><stop offset="0.1439" stop-color="#0078ff"/><stop offset="0.1550" stop-color="#0088ff"/><stop offset="0.1734" stop-color="#0096ff"/><stop offset="0.2288" stop-color="#0088ff"/><stop offset="0.2435" stop-color="#007bff"/><stop offset="0.2620" stop-color="#006cff"/><stop offset="0.7565" stop-color="#007bff"/><stop offset="0.7712" stop-color="#0088ff"/><stop offset="0.7897" stop-color="#0095ff"/><stop offset="0.8487" stop-color="#0084ff"/><stop offset="0.8598" stop-color="#0071ff"/><stop offset="0.8635" stop-color="#0069ff"/><stop offset="0.8672" stop-color="#005aff"/><stop offset="0.8708" stop-color="#004bff"/><stop offset="0.8745" stop-color="#003cff"/><stop offset="0.8782" stop-color="#002bff"/><stop offset="0.8819" stop-color="#001bff"/><stop offset="0.8856" stop-color="#000bff"/><stop offset="0.8893" stop-color="#0000fa"/><stop offset="0.8930" stop-color="#0000eb"/><stop offset="0.8967" stop-color="#0000dc"/><stop offset="0.9004" stop-color="#0000cf"/><stop offset="0.9041" stop-color="#0000c2"/><stop offset="0.9114" stop-color="#0000aa"/><stop offset="0.9188" stop-color="#000097"/><stop offset="0.9262" stop-color="#000088"/><stop offset="1.0000" stop-color="#000080"/></linearGradient>
<linearGradient id="m9" x1="0" y1="0" x2="0" y2="1"><stop offset="0.0000" stop-color="#000080"/><stop offset="0.0996" stop-color="#000091"/><stop offset="0.1107" stop-color="#0000a0"/><stop offset="0.1218" stop-color="#0000b1"/><stop offset="0.1292" stop-color="#0000bd"/><stop offset="0.1365" stop-color="#0000cb"/><stop offset="0.1513" stop-color="#0000d8"/><stop offset="0.2657" stop-color="#0000cb"/><stop offset="0.7675" stop-color="#0000d8"/><stop offset="0.8635" stop-color="#0000cb"/><stop offset="0.8708" stop-color="#0000bd"/><stop offset="0.8782" stop-color="#0000b1"/><stop offset="0.8893" stop-color="#0000a0"/><stop offset="0.9004" stop-color="#000091"/><stop offset="0.9114" stop-color="#000082"/><stop offset="1.0000" stop-color="#000080"/></linearGradient>
<linearGradient id="m10" x1="0" y1="0" x2="0" y2="1"><stop offset="0.0000" stop-color="#000080"/><stop offset="0.1255" stop-color="#000090"/><stop offset="0.1365" stop-color="#0000a0"/><stop offset="0.1624" stop-color="#0000ad"/><stop offset="0.2657" stop-color="#0000a1"/><stop offset="0.7823" stop-color="#0000ad"/><stop offset="0.8635" stop-color="#0000a0"/><stop offset="0.8745" stop-color="#000090"/><stop offset="0.8856" stop-color="#000081"/><stop offset="1.0000" stop-color="#000080"/></linearGradient>
<linearGradient id="sv1" x1="0" y1="0" x2="0" y2="1"><stop offset="0.000" stop-color="#fff" stop-opacity="0.000"/><stop offset="0.011" stop-color="#fff" stop-opacity="0.000"/><stop offset="0.022" stop-color="#fff" stop-opacity="0.000"/><stop offset="0.033" stop-color="#fff" stop-opacity="0.000"/><stop offset="0.044" stop-color="#fff" stop-opacity="0.000"/><stop offset="0.055" stop-color="#fff" stop-opacity="0.000"/><stop offset="0.066" stop-color="#fff" stop-opacity="0.000"/><stop offset="0.077" stop-color="#fff" stop-opacity="0.000"/><stop offset="0.089" stop-color="#fff" stop-opacity="0.000"/><stop offset="0.100" stop-color="#fff" stop-opacity="0.005"/><stop offset="0.111" stop-color="#fff" stop-opacity="0.059"/><stop offset="0.122" stop-color="#fff" stop-opacity="0.167"/><stop offset="0.133" stop-color="#fff" stop-opacity="0.322"/><stop offset="0.144" stop-color="#fff" stop-opacity="0.514"/><stop offset="0.155" stop-color="#fff" stop-opacity="0.722"/><stop offset="0.166" stop-color="#fff" stop-opacity="0.915"/><stop offset="0.177" stop-color="#fff" stop-opacity="1.000"/><stop offset="0.188" stop-color="#fff" stop-opacity="1.000"/><stop offset="0.199" stop-color="#fff" stop-opacity="1.000"/><stop offset="0.210" stop-color="#fff" stop-opacity="1.000"/><stop offset="0.221" stop-color="#fff" stop-opacity="1.000"/><stop offset="0.232" stop-color="#fff" stop-opacity="1.000"/><stop offset="0.244" stop-color="#fff" stop-opacity="1.000"/><stop offset="0.255" stop-color="#fff" stop-opacity="0.946"/><stop offset="0.266" stop-color="#fff" stop-opacity="0.877"/><stop offset="0.277" stop-color="#fff" stop-opacity="0.810"/><stop offset="0.288" stop-color="#fff" stop-opacity="0.747"/><stop offset="0.299" stop-color="#fff" stop-opacity="0.692"/><stop offset="0.310" stop-color="#fff" stop-opacity="0.647"/><stop offset="0.321" stop-color="#fff" stop-opacity="0.611"/><stop offset="0.332" stop-color="#fff" stop-opacity="0.584"/><stop offset="0.343" stop-color="#fff" stop-opacity="0.564"/><stop offset="0.354" stop-color="#fff" stop-opacity="0.551"/><stop offset="0.365" stop-color="#fff" stop-opacity="0.542"/><stop offset="0.376" stop-color="#fff" stop-opacity="0.536"/><stop offset="0.387" stop-color="#fff" stop-opacity="0.533"/><stop offset="0.399" stop-color="#fff" stop-opacity="0.530"/><stop offset="0.410" stop-color="#fff" stop-opacity="0.529"/><stop offset="0.421" stop-color="#fff" stop-opacity="0.529"/><stop offset="0.432" stop-color="#fff" stop-opacity="0.528"/><stop offset="0.443" stop-color="#fff" stop-opacity="0.528"/><stop offset="0.454" stop-color="#fff" stop-opacity="0.528"/><stop offset="0.465" stop-color="#fff" stop-opacity="0.528"/><stop offset="0.476" stop-color="#fff" stop-opacity="0.528"/><stop offset="0.487" stop-color="#fff" stop-opacity="0.528"/><stop offset="0.498" stop-color="#fff" stop-opacity="0.528"/><stop offset="0.509" stop-color="#fff" stop-opacity="0.528"/><stop offset="0.520" stop-color="#fff" stop-opacity="0.528"/><stop offset="0.531" stop-color="#fff" stop-opacity="0.528"/><stop offset="0.542" stop-color="#fff" stop-opacity="0.528"/><stop offset="0.554" stop-color="#fff" stop-opacity="0.528"/><stop offset="0.565" stop-color="#fff" stop-opacity="0.528"/><stop offset="0.576" stop-color="#fff" stop-opacity="0.529"/><stop offset="0.587" stop-color="#fff" stop-opacity="0.529"/><stop offset="0.598" stop-color="#fff" stop-opacity="0.530"/><stop offset="0.609" stop-color="#fff" stop-opacity="0.532"/><stop offset="0.620" stop-color="#fff" stop-opacity="0.535"/><stop offset="0.631" stop-color="#fff" stop-opacity="0.540"/><stop offset="0.642" stop-color="#fff" stop-opacity="0.547"/><stop offset="0.653" stop-color="#fff" stop-opacity="0.559"/><stop offset="0.664" stop-color="#fff" stop-opacity="0.577"/><stop offset="0.675" stop-color="#fff" stop-opacity="0.601"/><stop offset="0.686" stop-color="#fff" stop-opacity="0.634"/><stop offset="0.697" stop-color="#fff" stop-opacity="0.676"/><stop offset="0.708" stop-color="#fff" stop-opacity="0.728"/><stop offset="0.720" stop-color="#fff" stop-opacity="0.788"/><stop offset="0.731" stop-color="#fff" stop-opacity="0.854"/><stop offset="0.742" stop-color="#fff" stop-opacity="0.923"/><stop offset="0.753" stop-color="#fff" stop-opacity="0.990"/><stop offset="0.764" stop-color="#fff" stop-opacity="1.000"/><stop offset="0.775" stop-color="#fff" stop-opacity="1.000"/><stop offset="0.786" stop-color="#fff" stop-opacity="1.000"/><stop offset="0.797" stop-color="#fff" stop-opacity="1.000"/><stop offset="0.808" stop-color="#fff" stop-opacity="1.000"/><stop offset="0.819" stop-color="#fff" stop-opacity="1.000"/><stop offset="0.830" stop-color="#fff" stop-opacity="0.969"/><stop offset="0.841" stop-color="#fff" stop-opacity="0.790"/><stop offset="0.852" stop-color="#fff" stop-opacity="0.583"/><stop offset="0.863" stop-color="#fff" stop-opacity="0.383"/><stop offset="0.875" stop-color="#fff" stop-opacity="0.214"/><stop offset="0.886" stop-color="#fff" stop-opacity="0.089"/><stop offset="0.897" stop-color="#fff" stop-opacity="0.017"/><stop offset="0.908" stop-color="#fff" stop-opacity="0.000"/><stop offset="0.919" stop-color="#fff" stop-opacity="0.000"/><stop offset="0.930" stop-color="#fff" stop-opacity="0.000"/><stop offset="0.941" stop-color="#fff" stop-opacity="0.000"/><stop offset="0.952" stop-color="#fff" stop-opacity="0.000"/><stop offset="0.963" stop-color="#fff" stop-opacity="0.000"/><stop offset="0.974" stop-color="#fff" stop-opacity="0.000"/><stop offset="0.985" stop-color="#fff" stop-opacity="0.000"/><stop offset="0.996" stop-color="#fff" stop-opacity="0.000"/></linearGradient>
<mask id="sm1" maskUnits="userSpaceOnUse" x="177.5" y="30.5" width="443" height="542"><rect x="177.5" y="30.5" width="443" height="542" fill="url(#sv1)"/></mask>
<linearGradient id="sv2" x1="0" y1="0" x2="0" y2="1"><stop offset="0.000" stop-color="#fff" stop-opacity="0.000"/><stop offset="0.011" stop-color="#fff" stop-opacity="0.000"/><stop offset="0.022" stop-color="#fff" stop-opacity="0.000"/><stop offset="0.033" stop-color="#fff" stop-opacity="0.000"/><stop offset="0.044" stop-color="#fff" stop-opacity="0.000"/><stop offset="0.055" stop-color="#fff" stop-opacity="0.000"/><stop offset="0.066" stop-color="#fff" stop-opacity="0.000"/><stop offset="0.077" stop-color="#fff" stop-opacity="0.000"/><stop offset="0.089" stop-color="#fff" stop-opacity="0.000"/><stop offset="0.100" stop-color="#fff" stop-opacity="0.000"/><stop offset="0.111" stop-color="#fff" stop-opacity="0.026"/><stop offset="0.122" stop-color="#fff" stop-opacity="0.101"/><stop offset="0.133" stop-color="#fff" stop-opacity="0.217"/><stop offset="0.144" stop-color="#fff" stop-opacity="0.361"/><stop offset="0.155" stop-color="#fff" stop-opacity="0.520"/><stop offset="0.166" stop-color="#fff" stop-opacity="0.676"/><stop offset="0.177" stop-color="#fff" stop-opacity="0.805"/><stop offset="0.188" stop-color="#fff" stop-opacity="0.878"/><stop offset="0.199" stop-color="#fff" stop-opacity="0.914"/><stop offset="0.210" stop-color="#fff" stop-opacity="0.943"/><stop offset="0.221" stop-color="#fff" stop-opacity="0.964"/><stop offset="0.232" stop-color="#fff" stop-opacity="0.975"/><stop offset="0.244" stop-color="#fff" stop-opacity="0.974"/><stop offset="0.255" stop-color="#fff" stop-opacity="0.963"/><stop offset="0.266" stop-color="#fff" stop-opacity="0.941"/><stop offset="0.277" stop-color="#fff" stop-opacity="0.911"/><stop offset="0.288" stop-color="#fff" stop-opacity="0.874"/><stop offset="0.299" stop-color="#fff" stop-opacity="0.834"/><stop offset="0.310" stop-color="#fff" stop-opacity="0.792"/><stop offset="0.321" stop-color="#fff" stop-opacity="0.752"/><stop offset="0.332" stop-color="#fff" stop-opacity="0.714"/><stop offset="0.343" stop-color="#fff" stop-opacity="0.681"/><stop offset="0.354" stop-color="#fff" stop-opacity="0.652"/><stop offset="0.365" stop-color="#fff" stop-opacity="0.628"/><stop offset="0.376" stop-color="#fff" stop-opacity="0.609"/><stop offset="0.387" stop-color="#fff" stop-opacity="0.594"/><stop offset="0.399" stop-color="#fff" stop-opacity="0.584"/><stop offset="0.410" stop-color="#fff" stop-opacity="0.576"/><stop offset="0.421" stop-color="#fff" stop-opacity="0.570"/><stop offset="0.432" stop-color="#fff" stop-opacity="0.566"/><stop offset="0.443" stop-color="#fff" stop-opacity="0.564"/><stop offset="0.454" stop-color="#fff" stop-opacity="0.562"/><stop offset="0.465" stop-color="#fff" stop-opacity="0.561"/><stop offset="0.476" stop-color="#fff" stop-opacity="0.561"/><stop offset="0.487" stop-color="#fff" stop-opacity="0.560"/><stop offset="0.498" stop-color="#fff" stop-opacity="0.560"/><stop offset="0.509" stop-color="#fff" stop-opacity="0.560"/><stop offset="0.520" stop-color="#fff" stop-opacity="0.561"/><stop offset="0.531" stop-color="#fff" stop-opacity="0.561"/><stop offset="0.542" stop-color="#fff" stop-opacity="0.562"/><stop offset="0.554" stop-color="#fff" stop-opacity="0.563"/><stop offset="0.565" stop-color="#fff" stop-opacity="0.565"/><stop offset="0.576" stop-color="#fff" stop-opacity="0.569"/><stop offset="0.587" stop-color="#fff" stop-opacity="0.574"/><stop offset="0.598" stop-color="#fff" stop-opacity="0.581"/><stop offset="0.609" stop-color="#fff" stop-opacity="0.590"/><stop offset="0.620" stop-color="#fff" stop-opacity="0.604"/><stop offset="0.631" stop-color="#fff" stop-opacity="0.621"/><stop offset="0.642" stop-color="#fff" stop-opacity="0.643"/><stop offset="0.653" stop-color="#fff" stop-opacity="0.671"/><stop offset="0.664" stop-color="#fff" stop-opacity="0.703"/><stop offset="0.675" stop-color="#fff" stop-opacity="0.739"/><stop offset="0.686" stop-color="#fff" stop-opacity="0.779"/><stop offset="0.697" stop-color="#fff" stop-opacity="0.820"/><stop offset="0.708" stop-color="#fff" stop-opacity="0.861"/><stop offset="0.720" stop-color="#fff" stop-opacity="0.899"/><stop offset="0.731" stop-color="#fff" stop-opacity="0.932"/><stop offset="0.742" stop-color="#fff" stop-opacity="0.957"/><stop offset="0.753" stop-color="#fff" stop-opacity="0.972"/><stop offset="0.764" stop-color="#fff" stop-opacity="0.976"/><stop offset="0.775" stop-color="#fff" stop-opacity="0.969"/><stop offset="0.786" stop-color="#fff" stop-opacity="0.951"/><stop offset="0.797" stop-color="#fff" stop-opacity="0.924"/><stop offset="0.808" stop-color="#fff" stop-opacity="0.890"/><stop offset="0.819" stop-color="#fff" stop-opacity="0.837"/><stop offset="0.830" stop-color="#fff" stop-opacity="0.724"/><stop offset="0.841" stop-color="#fff" stop-opacity="0.574"/><stop offset="0.852" stop-color="#fff" stop-opacity="0.413"/><stop offset="0.863" stop-color="#fff" stop-opacity="0.262"/><stop offset="0.875" stop-color="#fff" stop-opacity="0.136"/><stop offset="0.886" stop-color="#fff" stop-opacity="0.046"/><stop offset="0.897" stop-color="#fff" stop-opacity="0.003"/><stop offset="0.908" stop-color="#fff" stop-opacity="0.000"/><stop offset="0.919" stop-color="#fff" stop-opacity="0.000"/><stop offset="0.930" stop-color="#fff" stop-opacity="0.000"/><stop offset="0.941" stop-color="#fff" stop-opacity="0.000"/><stop offset="0.952" stop-color="#fff" stop-opacity="0.000"/><stop offset="0.963" stop-color="#fff" stop-opacity="0.000"/><stop offset="0.974" stop-color="#fff" stop-opacity="0.000"/><stop offset="0.985" stop-color="#fff" stop-opacity="0.000"/><stop offset="0.996" stop-color="#fff" stop-opacity="0.000"/></linearGradient>
<mask id="sm2" maskUnits="userSpaceOnUse" x="177.5" y="30.5" width="443" height="542"><rect x="177.5" y="30.5" width="443" height="542" fill="url(#sv2)"/></mask>
<linearGradient id="sv3" x1="0" y1="0" x2="0" y2="1"><stop offset="0.000" stop-color="#fff" stop-opacity="0.000"/><stop offset="0.011" stop-color="#fff" stop-opacity="0.000"/><stop offset="0.022" stop-color="#fff" stop-opacity="0.000"/><stop offset="0.033" stop-color="#fff" stop-opacity="0.000"/><stop offset="0.044" stop-color="#fff" stop-opacity="0.000"/><stop offset="0.055" stop-color="#fff" stop-opacity="0.000"/><stop offset="0.066" stop-color="#fff" stop-opacity="0.000"/><stop offset="0.077" stop-color="#fff" stop-opacity="0.000"/><stop offset="0.089" stop-color="#fff" stop-opacity="0.000"/><stop offset="0.100" stop-color="#fff" stop-opacity="0.000"/><stop offset="0.111" stop-color="#fff" stop-opacity="0.000"/><stop offset="0.122" stop-color="#fff" stop-opacity="0.000"/><stop offset="0.133" stop-color="#fff" stop-opacity="0.000"/><stop offset="0.144" stop-color="#fff" stop-opacity="0.001"/><stop offset="0.155" stop-color="#fff" stop-opacity="0.009"/><stop offset="0.166" stop-color="#fff" stop-opacity="0.030"/><stop offset="0.177" stop-color="#fff" stop-opacity="0.064"/><stop offset="0.188" stop-color="#fff" stop-opacity="0.109"/><stop offset="0.199" stop-color="#fff" stop-opacity="0.157"/><stop offset="0.210" stop-color="#fff" stop-opacity="0.192"/><stop offset="0.221" stop-color="#fff" stop-opacity="0.202"/><stop offset="0.232" stop-color="#fff" stop-opacity="0.186"/><stop offset="0.244" stop-color="#fff" stop-opacity="0.160"/><stop offset="0.255" stop-color="#fff" stop-opacity="0.130"/><stop offset="0.266" stop-color="#fff" stop-opacity="0.101"/><stop offset="0.277" stop-color="#fff" stop-opacity="0.077"/><stop offset="0.288" stop-color="#fff" stop-opacity="0.059"/><stop offset="0.299" stop-color="#fff" stop-opacity="0.047"/><stop offset="0.310" stop-color="#fff" stop-opacity="0.040"/><stop offset="0.321" stop-color="#fff" stop-opacity="0.036"/><stop offset="0.332" stop-color="#fff" stop-opacity="0.034"/><stop offset="0.343" stop-color="#fff" stop-opacity="0.033"/><stop offset="0.354" stop-color="#fff" stop-opacity="0.032"/><stop offset="0.365" stop-color="#fff" stop-opacity="0.032"/><stop offset="0.376" stop-color="#fff" stop-opacity="0.032"/><stop offset="0.387" stop-color="#fff" stop-opacity="0.032"/><stop offset="0.399" stop-color="#fff" stop-opacity="0.032"/><stop offset="0.410" stop-color="#fff" stop-opacity="0.032"/><stop offset="0.421" stop-color="#fff" stop-opacity="0.032"/><stop offset="0.432" stop-color="#fff" stop-opacity="0.032"/><stop offset="0.443" stop-color="#fff" stop-opacity="0.032"/><stop offset="0.454" stop-color="#fff" stop-opacity="0.032"/><stop offset="0.465" stop-color="#fff" stop-opacity="0.032"/><stop offset="0.476" stop-color="#fff" stop-opacity="0.032"/><stop offset="0.487" stop-color="#fff" stop-opacity="0.032"/><stop offset="0.498" stop-color="#fff" stop-opacity="0.032"/><stop offset="0.509" stop-color="#fff" stop-opacity="0.032"/><stop offset="0.520" stop-color="#fff" stop-opacity="0.032"/><stop offset="0.531" stop-color="#fff" stop-opacity="0.032"/><stop offset="0.542" stop-color="#fff" stop-opacity="0.032"/><stop offset="0.554" stop-color="#fff" stop-opacity="0.032"/><stop offset="0.565" stop-color="#fff" stop-opacity="0.032"/><stop offset="0.576" stop-color="#fff" stop-opacity="0.032"/><stop offset="0.587" stop-color="#fff" stop-opacity="0.032"/><stop offset="0.598" stop-color="#fff" stop-opacity="0.032"/><stop offset="0.609" stop-color="#fff" stop-opacity="0.032"/><stop offset="0.620" stop-color="#fff" stop-opacity="0.032"/><stop offset="0.631" stop-color="#fff" stop-opacity="0.032"/><stop offset="0.642" stop-color="#fff" stop-opacity="0.032"/><stop offset="0.653" stop-color="#fff" stop-opacity="0.032"/><stop offset="0.664" stop-color="#fff" stop-opacity="0.033"/><stop offset="0.675" stop-color="#fff" stop-opacity="0.035"/><stop offset="0.686" stop-color="#fff" stop-opacity="0.038"/><stop offset="0.697" stop-color="#fff" stop-opacity="0.044"/><stop offset="0.708" stop-color="#fff" stop-opacity="0.054"/><stop offset="0.720" stop-color="#fff" stop-opacity="0.070"/><stop offset="0.731" stop-color="#fff" stop-opacity="0.092"/><stop offset="0.742" stop-color="#fff" stop-opacity="0.120"/><stop offset="0.753" stop-color="#fff" stop-opacity="0.150"/><stop offset="0.764" stop-color="#fff" stop-opacity="0.178"/><stop offset="0.775" stop-color="#fff" stop-opacity="0.199"/><stop offset="0.786" stop-color="#fff" stop-opacity="0.199"/><stop offset="0.797" stop-color="#fff" stop-opacity="0.171"/><stop offset="0.808" stop-color="#fff" stop-opacity="0.126"/><stop offset="0.819" stop-color="#fff" stop-opacity="0.078"/><stop offset="0.830" stop-color="#fff" stop-opacity="0.039"/><stop offset="0.841" stop-color="#fff" stop-opacity="0.015"/><stop offset="0.852" stop-color="#fff" stop-opacity="0.003"/><stop offset="0.863" stop-color="#fff" stop-opacity="0.000"/><stop offset="0.875" stop-color="#fff" stop-opacity="0.000"/><stop offset="0.886" stop-color="#fff" stop-opacity="0.000"/><stop offset="0.897" stop-color="#fff" stop-opacity="0.000"/><stop offset="0.908" stop-color="#fff" stop-opacity="0.000"/><stop offset="0.919" stop-color="#fff" stop-opacity="0.000"/><stop offset="0.930" stop-color="#fff" stop-opacity="0.000"/><stop offset="0.941" stop-color="#fff" stop-opacity="0.000"/><stop offset="0.952" stop-color="#fff" stop-opacity="0.000"/><stop offset="0.963" stop-color="#fff" stop-opacity="0.000"/><stop offset="0.974" stop-color="#fff" stop-opacity="0.000"/><stop offset="0.985" stop-color="#fff" stop-opacity="0.000"/><stop offset="0.996" stop-color="#fff" stop-opacity="0.000"/></linearGradient>
<mask id="sm3" maskUnits="userSpaceOnUse" x="177.5" y="30.5" width="443" height="542"><rect x="177.5" y="30.5" width="443" height="542" fill="url(#sv3)"/></mask>
<linearGradient id="sv4" x1="0" y1="0" x2="0" y2="1"><stop offset="0.000" stop-color="#fff" stop-opacity="0.000"/><stop offset="0.011" stop-color="#fff" stop-opacity="0.000"/><stop offset="0.022" stop-color="#fff" stop-opacity="0.000"/><stop offset="0.033" stop-color="#fff" stop-opacity="0.000"/><stop offset="0.044" stop-color="#fff" stop-opacity="0.000"/><stop offset="0.055" stop-color="#fff" stop-opacity="0.000"/><stop offset="0.066" stop-color="#fff" stop-opacity="0.000"/><stop offset="0.077" stop-color="#fff" stop-opacity="0.000"/><stop offset="0.089" stop-color="#fff" stop-opacity="0.000"/><stop offset="0.100" stop-color="#fff" stop-opacity="0.000"/><stop offset="0.111" stop-color="#fff" stop-opacity="0.000"/><stop offset="0.122" stop-color="#fff" stop-opacity="0.000"/><stop offset="0.133" stop-color="#fff" stop-opacity="0.000"/><stop offset="0.144" stop-color="#fff" stop-opacity="0.001"/><stop offset="0.155" stop-color="#fff" stop-opacity="0.008"/><stop offset="0.166" stop-color="#fff" stop-opacity="0.020"/><stop offset="0.177" stop-color="#fff" stop-opacity="0.037"/><stop offset="0.188" stop-color="#fff" stop-opacity="0.058"/><stop offset="0.199" stop-color="#fff" stop-opacity="0.080"/><stop offset="0.210" stop-color="#fff" stop-opacity="0.101"/><stop offset="0.221" stop-color="#fff" stop-opacity="0.115"/><stop offset="0.232" stop-color="#fff" stop-opacity="0.121"/><stop offset="0.244" stop-color="#fff" stop-opacity="0.125"/><stop offset="0.255" stop-color="#fff" stop-opacity="0.128"/><stop offset="0.266" stop-color="#fff" stop-opacity="0.128"/><stop offset="0.277" stop-color="#fff" stop-opacity="0.126"/><stop offset="0.288" stop-color="#fff" stop-opacity="0.123"/><stop offset="0.299" stop-color="#fff" stop-opacity="0.118"/><stop offset="0.310" stop-color="#fff" stop-opacity="0.112"/><stop offset="0.321" stop-color="#fff" stop-opacity="0.105"/><stop offset="0.332" stop-color="#fff" stop-opacity="0.097"/><stop offset="0.343" stop-color="#fff" stop-opacity="0.090"/><stop offset="0.354" stop-color="#fff" stop-opacity="0.082"/><stop offset="0.365" stop-color="#fff" stop-opacity="0.076"/><stop offset="0.376" stop-color="#fff" stop-opacity="0.070"/><stop offset="0.387" stop-color="#fff" stop-opacity="0.065"/><stop offset="0.399" stop-color="#fff" stop-opacity="0.061"/><stop offset="0.410" stop-color="#fff" stop-opacity="0.057"/><stop offset="0.421" stop-color="#fff" stop-opacity="0.055"/><stop offset="0.432" stop-color="#fff" stop-opacity="0.053"/><stop offset="0.443" stop-color="#fff" stop-opacity="0.051"/><stop offset="0.454" stop-color="#fff" stop-opacity="0.050"/><stop offset="0.465" stop-color="#fff" stop-opacity="0.049"/><stop offset="0.476" stop-color="#fff" stop-opacity="0.049"/><stop offset="0.487" stop-color="#fff" stop-opacity="0.049"/><stop offset="0.498" stop-color="#fff" stop-opacity="0.048"/><stop offset="0.509" stop-color="#fff" stop-opacity="0.048"/><stop offset="0.520" stop-color="#fff" stop-opacity="0.049"/><stop offset="0.531" stop-color="#fff" stop-opacity="0.049"/><stop offset="0.542" stop-color="#fff" stop-opacity="0.050"/><stop offset="0.554" stop-color="#fff" stop-opacity="0.051"/><stop offset="0.565" stop-color="#fff" stop-opacity="0.052"/><stop offset="0.576" stop-color="#fff" stop-opacity="0.054"/><stop offset="0.587" stop-color="#fff" stop-opacity="0.056"/><stop offset="0.598" stop-color="#fff" stop-opacity="0.059"/><stop offset="0.609" stop-color="#fff" stop-opacity="0.063"/><stop offset="0.620" stop-color="#fff" stop-opacity="0.068"/><stop offset="0.631" stop-color="#fff" stop-opacity="0.074"/><stop offset="0.642" stop-color="#fff" stop-opacity="0.080"/><stop offset="0.653" stop-color="#fff" stop-opacity="0.087"/><stop offset="0.664" stop-color="#fff" stop-opacity="0.095"/><stop offset="0.675" stop-color="#fff" stop-opacity="0.102"/><stop offset="0.686" stop-color="#fff" stop-opacity="0.110"/><stop offset="0.697" stop-color="#fff" stop-opacity="0.116"/><stop offset="0.708" stop-color="#fff" stop-opacity="0.122"/><stop offset="0.720" stop-color="#fff" stop-opacity="0.125"/><stop offset="0.731" stop-color="#fff" stop-opacity="0.128"/><stop offset="0.742" stop-color="#fff" stop-opacity="0.128"/><stop offset="0.753" stop-color="#fff" stop-opacity="0.126"/><stop offset="0.764" stop-color="#fff" stop-opacity="0.123"/><stop offset="0.775" stop-color="#fff" stop-opacity="0.118"/><stop offset="0.786" stop-color="#fff" stop-opacity="0.106"/><stop offset="0.797" stop-color="#fff" stop-opacity="0.088"/><stop offset="0.808" stop-color="#fff" stop-opacity="0.066"/><stop offset="0.819" stop-color="#fff" stop-opacity="0.044"/><stop offset="0.830" stop-color="#fff" stop-opacity="0.025"/><stop offset="0.841" stop-color="#fff" stop-opacity="0.011"/><stop offset="0.852" stop-color="#fff" stop-opacity="0.003"/><stop offset="0.863" stop-color="#fff" stop-opacity="0.000"/><stop offset="0.875" stop-color="#fff" stop-opacity="0.000"/><stop offset="0.886" stop-color="#fff" stop-opacity="0.000"/><stop offset="0.897" stop-color="#fff" stop-opacity="0.000"/><stop offset="0.908" stop-color="#fff" stop-opacity="0.000"/><stop offset="0.919" stop-color="#fff" stop-opacity="0.000"/><stop offset="0.930" stop-color="#fff" stop-opacity="0.000"/><stop offset="0.941" stop-color="#fff" stop-opacity="0.000"/><stop offset="0.952" stop-color="#fff" stop-opacity="0.000"/><stop offset="0.963" stop-color="#fff" stop-opacity="0.000"/><stop offset="0.974" stop-color="#fff" stop-opacity="0.000"/><stop offset="0.985" stop-color="#fff" stop-opacity="0.000"/><stop offset="0.996" stop-color="#fff" stop-opacity="0.000"/></linearGradient>
<mask id="sm4" maskUnits="userSpaceOnUse" x="177.5" y="30.5" width="443" height="542"><rect x="177.5" y="30.5" width="443" height="542" fill="url(#sv4)"/></mask>
<linearGradient id="sh" x1="0" y1="0" x2="1" y2="0"><stop offset="0.00" stop-color="#0000ff" stop-opacity="0.000"/><stop offset="0.10" stop-color="#0000ff" stop-opacity="0.095"/><stop offset="0.20" stop-color="#0000ff" stop-opacity="0.345"/><stop offset="0.30" stop-color="#0000ff" stop-opacity="0.655"/><stop offset="0.40" stop-color="#0000ff" stop-opacity="0.905"/><stop offset="0.50" stop-color="#0000ff" stop-opacity="1.000"/><stop offset="0.60" stop-color="#0000ff" stop-opacity="0.905"/><stop offset="0.70" stop-color="#0000ff" stop-opacity="0.655"/><stop offset="0.80" stop-color="#0000ff" stop-opacity="0.345"/><stop offset="0.90" stop-color="#0000ff" stop-opacity="0.095"/><stop offset="1.00" stop-color="#0000ff" stop-opacity="0.000"/></linearGradient>
<linearGradient id="cb" x1="0" y1="1" x2="0" y2="0"><stop offset="0.000" stop-color="#000080"/><stop offset="0.031" stop-color="#00009f"/><stop offset="0.062" stop-color="#0000bf"/><stop offset="0.094" stop-color="#0000df"/><stop offset="0.125" stop-color="#0000ff"/><stop offset="0.156" stop-color="#0020ff"/><stop offset="0.188" stop-color="#0040ff"/><stop offset="0.219" stop-color="#0060ff"/><stop offset="0.250" stop-color="#0080ff"/><stop offset="0.281" stop-color="#009fff"/><stop offset="0.312" stop-color="#00bfff"/><stop offset="0.344" stop-color="#00dfff"/><stop offset="0.375" stop-color="#00ffff"/><stop offset="0.406" stop-color="#20ffdf"/><stop offset="0.438" stop-color="#40ffbf"/><stop offset="0.469" stop-color="#60ff9f"/><stop offset="0.500" stop-color="#80ff80"/><stop offset="0.531" stop-color="#9fff60"/><stop offset="0.562" stop-color="#bfff40"/><stop offset="0.594" stop-color="#dfff20"/><stop offset="0.625" stop-color="#ffff00"/><stop offset="0.656" stop-color="#ffdf00"/><stop offset="0.688" stop-color="#ffbf00"/><stop offset="0.719" stop-color="#ff9f00"/><stop offset="0.750" stop-color="#ff8000"/><stop offset="0.781" stop-color="#ff6000"/><stop offset="0.812" stop-color="#ff4000"/><stop offset="0.844" stop-color="#ff2000"/><stop offset="0.875" stop-color="#ff0000"/><stop offset="0.906" stop-color="#df0000"/><stop offset="0.938" stop-color="#bf0000"/><stop offset="0.969" stop-color="#9f0000"/><stop offset="1.000" stop-color="#800000"/></linearGradient>
<clipPath id="cc"><rect x="127" y="739.7" width="570.6" height="519.5"/></clipPath>
<clipPath id="cd"><rect x="867.8" y="739.6" width="570.3" height="521.4"/></clipPath>
</defs>
<rect width="1476" height="1363" fill="#fff"/>
<rect x="177.5" y="30.5" width="443" height="542" fill="#000080"/>
<g clip-path="url(#ca)" shape-rendering="crispEdges">
<rect x="397.6" y="30.5" width="1.02" height="542" fill="url(#m0)"/>
<rect x="398.6" y="30.5" width="1.02" height="542" fill="url(#m0)"/>
<rect x="396.6" y="30.5" width="1.02" height="542" fill="url(#m1)"/>
<rect x="399.6" y="30.5" width="1.02" height="542" fill="url(#m1)"/>
<rect x="395.6" y="30.5" width="1.02" height="542" fill="url(#m2)"/>
<rect x="400.6" y="30.5" width="1.02" height="542" fill="url(#m2)"/>
<rect x="394.6" y="30.5" width="1.02" height="542" fill="url(#m3)"/>
<rect x="401.6" y="30.5" width="1.02" height="542" fill="url(#m3)"/>
<rect x="393.6" y="30.5" width="1.02" height="542" fill="url(#m4)"/>
<rect x="402.6" y="30.5" width="1.02" height="542" fill="url(#m4)"/>
<rect x="392.6" y="30.5" width="1.02" height="542" fill="url(#m5)"/>
<rect x="403.6" y="30.5" width="1.02" height="542" fill="url(#m5)"/>
<rect x="391.6" y="30.5" width="1.02" height="542" fill="url(#m6)"/>
<rect x="404.6" y="30.5" width="1.02" height="542" fill="url(#m6)"/>
<rect x="390.6" y="30.5" width="1.02" height="542" fill="url(#m7)"/>
<rect x="405.6" y="30.5" width="1.02" height="542" fill="url(#m7)"/>
<rect x="389.6" y="30.5" width="1.02" height="542" fill="url(#m8)"/>
<rect x="406.6" y="30.5" width="1.02" height="542" fill="url(#m8)"/>
<rect x="388.6" y="30.5" width="1.02" height="542" fill="url(#m9)"/>
<rect x="407.6" y="30.5" width="1.02" height="542" fill="url(#m9)"/>
<rect x="387.6" y="30.5" width="1.02" height="542" fill="url(#m10)"/>
<rect x="408.6" y="30.5" width="1.02" height="542" fill="url(#m10)"/>
</g>
<g mask="url(#sm1)">
<rect x="368.1" y="30.5" width="11" height="542" fill="url(#sh)"/>
<rect x="418.1" y="30.5" width="11" height="542" fill="url(#sh)"/>
</g>
<g mask="url(#sm2)">
<rect x="345.8" y="30.5" width="13" height="542" fill="url(#sh)"/>
<rect x="438.4" y="30.5" width="13" height="542" fill="url(#sh)"/>
</g>
<g mask="url(#sm3)">
<rect x="325.8" y="30.5" width="9" height="542" fill="url(#sh)"/>
<rect x="462.4" y="30.5" width="9" height="542" fill="url(#sh)"/>
</g>
<g mask="url(#sm4)">
<rect x="264.6" y="30.5" width="7" height="542" fill="url(#sh)"/>
<rect x="525.5" y="30.5" width="7" height="542" fill="url(#sh)"/>
</g>
<path d="M177.5 31.1H620.5" stroke="#fff" stroke-opacity=".55" stroke-width="2" fill="none"/>
<path d="M620.2 30.5V572.5" stroke="#fff" stroke-opacity=".45" stroke-width="1.6" fill="none"/>
<path d="M177.5 30.5V572.5H620.5" stroke="#111" stroke-width="1.3" fill="none"/>
<path d="M177.5 30.5h10.5M177.5 44h5.5M177.5 57.6h5.5M177.5 71.2h5.5M177.5 84.7h5.5M177.5 98.2h10.5M177.5 111.8h5.5M177.5 125.3h5.5M177.5 138.9h5.5M177.5 152.4h5.5M177.5 166h10.5M177.5 179.6h5.5M177.5 193.1h5.5M177.5 206.7h5.5M177.5 220.2h5.5M177.5 233.8h10.5M177.5 247.3h5.5M177.5 260.9h5.5M177.5 274.4h5.5M177.5 287.9h5.5M177.5 301.5h10.5M177.5 315.1h5.5M177.5 328.6h5.5M177.5 342.1h5.5M177.5 355.7h5.5M177.5 369.2h10.5M177.5 382.8h5.5M177.5 396.4h5.5M177.5 409.9h5.5M177.5 423.4h5.5M177.5 437h10.5M177.5 450.6h5.5M177.5 464.1h5.5M177.5 477.6h5.5M177.5 491.2h5.5M177.5 504.8h10.5M177.5 518.3h5.5M177.5 531.9h5.5M177.5 545.4h5.5M177.5 559h5.5M177.5 572.5h10.5M177.5 572.5v-10.5M192.3 572.5v-5.5M207 572.5v-5.5M221.8 572.5v-5.5M236.6 572.5v-5.5M251.3 572.5v-10.5M266.1 572.5v-5.5M280.9 572.5v-5.5M295.6 572.5v-5.5M310.4 572.5v-5.5M325.2 572.5v-10.5M339.9 572.5v-5.5M354.7 572.5v-5.5M369.5 572.5v-5.5M384.2 572.5v-5.5M399 572.5v-10.5M413.8 572.5v-5.5M428.5 572.5v-5.5M443.3 572.5v-5.5M458.1 572.5v-5.5M472.8 572.5v-10.5M487.6 572.5v-5.5M502.4 572.5v-5.5M517.1 572.5v-5.5M531.9 572.5v-5.5M546.7 572.5v-10.5M561.4 572.5v-5.5M576.2 572.5v-5.5M591 572.5v-5.5M605.7 572.5v-5.5M620.5 572.5v-10.5" stroke="#000" stroke-width="1.3" fill="none"/>
<text x="162" y="43.5" font-size="33.6" text-anchor="end" fill="#000"  class="t">2.0</text>
<text x="162" y="109.3" font-size="33.6" text-anchor="end" fill="#000"  class="t">1.5</text>
<text x="165.8" y="178.9" font-size="33.6" text-anchor="end" fill="#000"  class="t">1.0</text>
<text x="164" y="245.2" font-size="33.6" text-anchor="end" fill="#000"  class="t">0.5</text>
<text x="163.5" y="312.8" font-size="33.6" text-anchor="end" fill="#000"  class="t">0.0</text>
<text x="162.6" y="381.8" font-size="33.6" text-anchor="end" fill="#000"  class="t">-0.5</text>
<text x="163.5" y="450.3" font-size="33.6" text-anchor="end" fill="#000"  class="t">-1.0</text>
<text x="162.1" y="518.9" font-size="33.6" text-anchor="end" fill="#000"  class="t">-1.5</text>
<text x="163.1" y="584.1" font-size="33.6" text-anchor="end" fill="#000"  class="t">-2.0</text>
<text x="177" y="615.9" font-size="33.6" text-anchor="middle" fill="#000"  class="t">-1.5</text>
<text x="251.8" y="615.9" font-size="33.6" text-anchor="middle" fill="#000"  class="t">-1.0</text>
<text x="324.3" y="615.9" font-size="33.6" text-anchor="middle" fill="#000"  class="t">-0.5</text>
<text x="398.7" y="615.9" font-size="33.6" text-anchor="middle" fill="#000"  class="t">0.0</text>
<text x="470.8" y="615.9" font-size="33.6" text-anchor="middle" fill="#000"  class="t">0.5</text>
<text x="545.4" y="615.9" font-size="33.6" text-anchor="middle" fill="#000"  class="t">1.0</text>
<text x="617.2" y="615.9" font-size="33.6" text-anchor="middle" fill="#000"  class="t">1.5</text>
<text x="398" y="660.8" font-size="33.6" text-anchor="middle" fill="#000"  class="t"><tspan font-style="italic">y</tspan> (μm)</text>
<text class="t" transform="translate(91.5 306.3) rotate(-90)" font-size="33.6" text-anchor="middle"><tspan font-style="italic">z</tspan> (μm)</text>
<text x="188.5" y="69" font-size="33.6" text-anchor="start" fill="#fff" >(a)</text>
<rect x="637.5" y="33.7" width="15" height="186.6" fill="url(#cb)"/>
<path d="M637.5 37H652.5M637.5 97H652.5M637.5 158.3H652.5M637.5 219.3H652.5" stroke="#000" stroke-width="2.6" fill="none" opacity=".78"/>
<text x="667.8" y="46.8" font-size="35.5" text-anchor="start" fill="#000"  class="t">I<tspan font-size="22.7" dy="7.4">max</tspan></text>
<text x="666.5" y="225.5" font-size="33.6" text-anchor="start" fill="#000"  class="t">0</text>
<path d="M854.5 527.8L856 524.5L857.5 521L859 517.4L860.5 513.6L862 509.6L863.5 505.4L865 501.1L866.5 496.6L868 491.9L869.5 487L871 482L872.5 476.8L874 471.3L875.5 465.7L877 459.9L878.5 453.9L880 447.7L881.5 441.3L883 434.6L884.5 427.8L886 420.8L887.5 413.5L889 406.1L890.5 398.4L892 390.5L893.5 382.4L895 374L896.5 365.5L898 356.7L899.5 347.9L901 338.9L902.5 329.8L904 320.6L905.5 311.4L907 302.2L908.5 293L910 283.9L911.5 274.9L913 265.8L914.5 256.9L916 247.8L917.5 238.8L919 229.6L920.5 220.3L922 210.8L923.5 201.5L925 192.3L926.5 183.4L928 175L929.5 167.1L931 159.5L932.5 152.1L934 144.9L935.5 137.9L937 131.1L938.5 124.6L940 118.5L941.5 112.9L943 107.8L944.5 103.4L946 99.7L947.5 96.4L949 93.6L950.5 91L952 88.6L953.5 86.5L955 84.6L956.5 83L958 81.7L959.5 80.7L961 80L962.5 79.6L964 79.5L965.5 79.6L967 80L968.5 80.6L970 81.4L971.5 82.6L973 84.1L974.5 85.8L976 87.7L977.5 89.8L979 92.1L980.5 94.6L982 97.2L983.5 99.9L985 102.8L986.5 105.9L988 109.2L989.5 112.6L991 116L992.5 119.4L994 122.7L995.5 126L997 129.2L998.5 132.4L1000 135.5L1001.5 138.5L1003 141.3L1004.5 143.8L1006 146.1L1007.5 148.2L1009 150.1L1010.5 151.9L1012 153.4L1013.5 154.7L1015 155.6L1016.5 156.3L1018 156.7L1019.5 156.8L1021 156.7L1022.5 156.5L1024 156.1L1025.5 155.6L1027 155L1028.5 154.4L1030 153.8L1031.5 153.3L1033 152.7L1034.5 152.3L1036 151.8L1037.5 151.4L1039 151L1040.5 150.6L1042 150.2L1043.5 149.9L1045 149.7L1046.5 149.5L1048 149.4L1049.5 149.4L1051 149.6L1052.5 149.9L1054 150.2L1055.5 150.6L1057 151.1L1058.5 151.6L1060 152.1L1061.5 152.6L1063 153.2L1064.5 153.7L1066 154.2L1067.5 154.8L1069 155.3L1070.5 155.9L1072 156.4L1073.5 157L1075 157.5L1076.5 158L1078 158.6L1079.5 159.1L1081 159.6L1082.5 160L1084 160.4L1085.5 160.7L1087 161L1088.5 161.2L1090 161.3L1091.5 161.3L1093 161.2L1094.5 161.1L1096 160.9L1097.5 160.6L1099 160.2L1100.5 159.8L1102 159.4L1103.5 159L1105 158.5L1106.5 158L1108 157.5L1109.5 157L1111 156.5L1112.5 156.1L1114 155.6L1115.5 155.1L1117 154.7L1118.5 154.2L1120 153.8L1121.5 153.4L1123 153.1L1124.5 152.7L1126 152.4L1127.5 152.2L1129 151.9L1130.5 151.7L1132 151.5L1133.5 151.4L1135 151.2L1136.5 151.1L1138 151L1139.5 151L1141 150.9L1142.5 150.9L1144 150.9L1145.5 150.9L1147 151L1148.5 151L1150 151.1L1151.5 151.3L1153 151.4L1154.5 151.6L1156 151.8L1157.5 152L1159 152.3L1160.5 152.5L1162 152.8L1163.5 153.2L1165 153.5L1166.5 153.9L1168 154.4L1169.5 154.8L1171 155.3L1172.5 155.7L1174 156.2L1175.5 156.7L1177 157.2L1178.5 157.7L1180 158.2L1181.5 158.7L1183 159.1L1184.5 159.6L1186 160L1187.5 160.3L1189 160.7L1190.5 160.9L1192 161.1L1193.5 161.3L1195 161.3L1196.5 161.3L1198 161.2L1199.5 160.9L1201 160.6L1202.5 160.3L1204 159.9L1205.5 159.4L1207 158.9L1208.5 158.4L1210 157.9L1211.5 157.3L1213 156.8L1214.5 156.2L1216 155.7L1217.5 155.1L1219 154.6L1220.5 154.1L1222 153.5L1223.5 153L1225 152.5L1226.5 151.9L1228 151.4L1229.5 150.9L1231 150.5L1232.5 150.1L1234 149.8L1235.5 149.5L1237 149.4L1238.5 149.4L1240 149.5L1241.5 149.7L1243 150L1244.5 150.4L1246 150.7L1247.5 151.1L1249 151.5L1250.5 152L1252 152.4L1253.5 152.9L1255 153.5L1256.5 154L1258 154.6L1259.5 155.2L1261 155.8L1262.5 156.2L1264 156.6L1265.5 156.8L1267 156.8L1268.5 156.6L1270 156.1L1271.5 155.4L1273 154.3L1274.5 152.9L1276 151.3L1277.5 149.5L1279 147.6L1280.5 145.4L1282 143L1283.5 140.4L1285 137.5L1286.5 134.5L1288 131.4L1289.5 128.2L1291 124.9L1292.5 121.6L1294 118.3L1295.5 114.9L1297 111.4L1298.5 108.1L1300 104.9L1301.5 101.8L1303 99L1304.5 96.3L1306 93.8L1307.5 91.4L1309 89.1L1310.5 87L1312 85.2L1313.5 83.5L1315 82.2L1316.5 81.1L1318 80.3L1319.5 79.8L1321 79.5L1322.5 79.5L1324 79.7L1325.5 80.2L1327 81L1328.5 82.1L1330 83.5L1331.5 85.2L1333 87.2L1334.5 89.4L1336 91.8L1337.5 94.5L1339 97.5L1340.5 100.9L1342 104.8L1343.5 109.5L1345 114.7L1346.5 120.5L1348 126.8L1349.5 133.4L1351 140.2L1352.5 147.3L1354 154.5L1355.5 162L1357 169.7L1358.5 177.8L1360 186.3L1361.5 195.3L1363 204.6L1364.5 214L1366 223.4L1367.5 232.6L1369 241.8L1370.5 250.8L1372 259.9L1373.5 268.8L1375 277.9L1376.5 286.9L1378 296.1L1379.5 305.3L1381 314.5L1382.5 323.7L1384 332.8L1385.5 341.9L1387 350.8L1388.5 359.7L1390 368.3L1391.5 376.8L1393 385.1L1394.5 393.1L1396 401L1397.5 408.6L1399 416L1400.5 423.1L1402 430.1L1403.5 436.9L1405 443.4L1406.5 449.8L1408 455.9L1409.5 461.8L1411 467.6L1412.5 473.2L1414 478.5L1415.5 483.7L1417 488.7L1418.5 493.5L1420 498.1L1421.5 502.6L1423 506.8L1424.5 510.9L1426 514.8L1427.5 518.6L1429 522.2L1430.5 525.6" stroke="#0000ff" stroke-width="2.8" fill="none" stroke-linejoin="round"/>
<rect x="854.5" y="34.5" width="577" height="538.5" fill="none" stroke="#2b2b2b" stroke-width="3.5"/>
<path d="M926.6 573v-7.5M926.6 34.5v7.5M998.8 573v-7.5M998.8 34.5v7.5M1070.9 573v-7.5M1070.9 34.5v7.5M1143 573v-7.5M1143 34.5v7.5M1215.1 573v-7.5M1215.1 34.5v7.5M1287.2 573v-7.5M1287.2 34.5v7.5M1359.4 573v-7.5M1359.4 34.5v7.5M854.5 453.3h7.5M1431.5 453.3h-7.5M854.5 333.7h7.5M1431.5 333.7h-7.5M854.5 214h7.5M1431.5 214h-7.5M854.5 94.3h7.5M1431.5 94.3h-7.5" stroke="#2b2b2b" stroke-width="3" fill="none"/>
<text x="839.5" y="586.4" font-size="33.6" text-anchor="end" fill="#000"  class="t">0.5</text>
<text x="839.5" y="464.7" font-size="33.6" text-anchor="end" fill="#000"  class="t">1.5</text>
<text x="839.5" y="345.1" font-size="33.6" text-anchor="end" fill="#000"  class="t">2.5</text>
<text x="839.5" y="225.4" font-size="33.6" text-anchor="end" fill="#000"  class="t">3.5</text>
<text x="839.5" y="105.7" font-size="33.6" text-anchor="end" fill="#000"  class="t">4.5</text>
<text x="855.5" y="617.3" font-size="33.6" text-anchor="middle" fill="#000"  class="t">-2.0</text>
<text x="927.6" y="617.3" font-size="33.6" text-anchor="middle" fill="#000"  class="t">-1.5</text>
<text x="999.8" y="617.3" font-size="33.6" text-anchor="middle" fill="#000"  class="t">-1.0</text>
<text x="1071.9" y="617.3" font-size="33.6" text-anchor="middle" fill="#000"  class="t">-0.5</text>
<text x="1142.8" y="617.3" font-size="33.6" text-anchor="middle" fill="#000"  class="t">0.0</text>
<text x="1214.9" y="617.3" font-size="33.6" text-anchor="middle" fill="#000"  class="t">0.5</text>
<text x="1287" y="617.3" font-size="33.6" text-anchor="middle" fill="#000"  class="t">1.0</text>
<text x="1359.2" y="617.3" font-size="33.6" text-anchor="middle" fill="#000"  class="t">1.5</text>
<text x="1431.3" y="617.3" font-size="33.6" text-anchor="middle" fill="#000"  class="t">2.0</text>
<text x="1146.5" y="661.2" font-size="34" text-anchor="middle" fill="#000"  class="t"><tspan font-style="italic">z</tspan> (μm)</text>
<text class="t" transform="translate(773.5 296) rotate(-90)" font-size="33.6" text-anchor="middle">intensity (a.u.)</text>
<text x="868.8" y="72.5" font-size="33.6" text-anchor="start" fill="#000"  class="t">(b)</text>
<rect x="129.6" y="739.7" width="570.6" height="515.5" fill="none" stroke="#2b2b2b" stroke-width="5.4"/>
<path d="M414.9 1255.2v-8.5M414.9 739.7v8.5M129.6 1152.1h8.5M700.2 1152.1h-8.5M129.6 1049h8.5M700.2 1049h-8.5M129.6 945.9h8.5M700.2 945.9h-8.5M129.6 842.8h8.5M700.2 842.8h-8.5" stroke="#2b2b2b" stroke-width="5" fill="none"/>
<path clip-path="url(#cc)" d="M126.6 1234.1L127.6 1232.6L128.6 1231.1L129.6 1229.6L130.6 1228.1L131.6 1226.6L132.6 1225.1L133.6 1223.6L134.6 1222.1L135.6 1220.7L136.6 1219.3L137.6 1218L138.6 1216.7L139.6 1215.5L140.6 1214.4L141.6 1213.3L142.6 1212.3L143.6 1211.5L144.6 1210.7L145.6 1210L146.6 1209.4L147.6 1208.9L148.6 1208.5L149.6 1208.3L150.6 1208.1L151.6 1208.1L152.6 1208.2L153.6 1208.4L154.6 1208.8L155.6 1209.3L156.6 1209.9L157.6 1210.6L158.6 1211.4L159.6 1212.3L160.6 1213.3L161.6 1214.4L162.6 1215.7L163.6 1217L164.6 1218.4L165.6 1219.8L166.6 1221.4L167.6 1222.9L168.6 1224.5L169.6 1226.2L170.6 1227.8L171.6 1229.4L172.6 1231.1L173.6 1232.7L174.6 1234.3L175.6 1235.9L176.6 1237.4L177.6 1238.9L178.6 1240.3L179.6 1241.7L180.6 1243L181.6 1244.2L182.6 1245.3L183.6 1246.3L184.6 1247.1L185.6 1247.9L186.6 1248.6L187.6 1249.1L188.6 1249.5L189.6 1249.7L190.6 1249.8L191.6 1249.7L192.6 1249.5L193.6 1249.1L194.6 1248.6L195.6 1247.9L196.6 1247L197.6 1246L198.6 1244.9L199.6 1243.6L200.6 1242.1L201.6 1240.6L202.6 1238.8L203.6 1237L204.6 1235L205.6 1233L206.6 1230.8L207.6 1228.5L208.6 1226.2L209.6 1223.8L210.6 1221.4L211.6 1218.9L212.6 1216.4L213.6 1214L214.6 1211.5L215.6 1209L216.6 1206.5L217.6 1204.1L218.6 1201.8L219.6 1199.5L220.6 1197.2L221.6 1195.1L222.6 1193L223.6 1191.1L224.6 1189.2L225.6 1187.5L226.6 1185.9L227.6 1184.4L228.6 1183.1L229.6 1182L230.6 1181L231.6 1180.2L232.6 1179.5L233.6 1179L234.6 1178.7L235.6 1178.6L236.6 1178.7L237.6 1179L238.6 1179.4L239.6 1180.1L240.6 1180.9L241.6 1182L242.6 1183.2L243.6 1184.5L244.6 1186.1L245.6 1187.8L246.6 1189.6L247.6 1191.6L248.6 1193.8L249.6 1196.1L250.6 1198.5L251.6 1201L252.6 1203.6L253.6 1206.2L254.6 1208.9L255.6 1211.6L256.6 1214.4L257.6 1217.2L258.6 1219.9L259.6 1222.7L260.6 1225.4L261.6 1228L262.6 1230.7L263.6 1233.2L264.6 1235.6L265.6 1238L266.6 1240.2L267.6 1242.4L268.6 1244.3L269.6 1246.2L270.6 1247.9L271.6 1249.4L272.6 1250.7L273.6 1251.9L274.6 1252.8L275.6 1253.6L276.6 1254.1L277.6 1254.5L278.6 1254.6L279.6 1254.5L280.6 1254.2L281.6 1253.6L282.6 1252.8L283.6 1251.8L284.6 1250.6L285.6 1249.2L286.6 1247.6L287.6 1245.8L288.6 1243.7L289.6 1241.5L290.6 1239.2L291.6 1236.7L292.6 1234L293.6 1231.2L294.6 1228.3L295.6 1225.4L296.6 1222.3L297.6 1219.3L298.6 1216.2L299.6 1213.1L300.6 1210L301.6 1207L302.6 1204L303.6 1201L304.6 1198.2L305.6 1195.4L306.6 1192.7L307.6 1190.2L308.6 1187.8L309.6 1185.6L310.6 1183.6L311.6 1181.8L312.6 1180.1L313.6 1178.7L314.6 1177.5L315.6 1176.5L316.6 1175.7L317.6 1175.2L318.6 1175L319.6 1175L320.6 1175.4L321.6 1175.9L322.6 1176.8L323.6 1177.9L324.6 1179.2L325.6 1180.8L326.6 1182.7L327.6 1184.7L328.6 1187L329.6 1189.5L330.6 1192.2L331.6 1195.1L332.6 1198.1L333.6 1201.2L334.6 1204.4L335.6 1207.8L336.6 1211.1L337.6 1214.5L338.6 1217.9L339.6 1221.2L340.6 1224.6L341.6 1227.8L342.6 1231L343.6 1234L344.6 1236.9L345.6 1239.7L346.6 1242.3L347.6 1244.6L348.6 1246.7L349.6 1248.7L350.6 1250.3L351.6 1251.8L352.6 1252.9L353.6 1253.9L354.6 1254.5L355.6 1254.9L356.6 1255L357.6 1254.8L358.6 1254.3L359.6 1253.4L360.6 1252L361.6 1250.2L362.6 1247.9L363.6 1245.1L364.6 1241.8L365.6 1238L366.6 1233.6L367.6 1228.8L368.6 1223.4L369.6 1217.5L370.6 1211.1L371.6 1204.2L372.6 1196.8L373.6 1189L374.6 1180.7L375.6 1172L376.6 1162.8L377.6 1153.3L378.6 1143.5L379.6 1133.3L380.6 1122.9L381.6 1112.2L382.6 1101.2L383.6 1090.1L384.6 1078.8L385.6 1067.4L386.6 1055.9L387.6 1044.3L388.6 1032.7L389.6 1021.2L390.6 1009.7L391.6 998.4L392.6 987.1L393.6 976.1L394.6 965.3L395.6 954.7L396.6 944.4L397.6 934.4L398.6 924.8L399.6 915.6L400.6 906.8L401.6 898.4L402.6 890.5L403.6 883.2L404.6 876.3L405.6 870.1L406.6 864.4L407.6 859.3L408.6 854.8L409.6 850.9L410.6 847.7L411.6 845.2L412.6 843.3L413.6 842.1L414.6 841.5L415.6 841.7L416.6 842.5L417.6 844L418.6 846.1L419.6 848.9L420.6 852.4L421.6 856.5L422.6 861.2L423.6 866.6L424.6 872.5L425.6 879L426.6 886.1L427.6 893.6L428.6 901.7L429.6 910.2L430.6 919.2L431.6 928.6L432.6 938.4L433.6 948.5L434.6 958.9L435.6 969.6L436.6 980.5L437.6 991.6L438.6 1002.9L439.6 1014.3L440.6 1025.8L441.6 1037.4L442.6 1048.9L443.6 1060.5L444.6 1071.9L445.6 1083.3L446.6 1094.6L447.6 1105.6L448.6 1116.5L449.6 1127.1L450.6 1137.4L451.6 1147.5L452.6 1157.2L453.6 1166.5L454.6 1175.5L455.6 1184L456.6 1192.1L457.6 1199.8L458.6 1207L459.6 1213.7L460.6 1219.9L461.6 1225.6L462.6 1230.8L463.6 1235.4L464.6 1239.6L465.6 1243.2L466.6 1246.3L467.6 1248.9L468.6 1251L469.6 1252.6L470.6 1253.8L471.6 1254.5L472.6 1254.9L473.6 1255L474.6 1254.8L475.6 1254.3L476.6 1253.5L477.6 1252.5L478.6 1251.2L479.6 1249.7L480.6 1247.9L481.6 1245.9L482.6 1243.7L483.6 1241.3L484.6 1238.6L485.6 1235.8L486.6 1232.8L487.6 1229.7L488.6 1226.5L489.6 1223.2L490.6 1219.9L491.6 1216.5L492.6 1213.1L493.6 1209.8L494.6 1206.4L495.6 1203.1L496.6 1200L497.6 1196.9L498.6 1193.9L499.6 1191.1L500.6 1188.5L501.6 1186.1L502.6 1183.9L503.6 1181.9L504.6 1180.2L505.6 1178.7L506.6 1177.4L507.6 1176.4L508.6 1175.7L509.6 1175.2L510.6 1175L511.6 1175.1L512.6 1175.4L513.6 1176L514.6 1176.8L515.6 1177.9L516.6 1179.2L517.6 1180.7L518.6 1182.5L519.6 1184.4L520.6 1186.5L521.6 1188.8L522.6 1191.2L523.6 1193.8L524.6 1196.5L525.6 1199.3L526.6 1202.2L527.6 1205.2L528.6 1208.2L529.6 1211.2L530.6 1214.3L531.6 1217.4L532.6 1220.5L533.6 1223.6L534.6 1226.6L535.6 1229.5L536.6 1232.3L537.6 1235.1L538.6 1237.7L539.6 1240.1L540.6 1242.4L541.6 1244.6L542.6 1246.5L543.6 1248.2L544.6 1249.8L545.6 1251.1L546.6 1252.2L547.6 1253.2L548.6 1253.9L549.6 1254.3L550.6 1254.6L551.6 1254.6L552.6 1254.4L553.6 1253.9L554.6 1253.3L555.6 1252.5L556.6 1251.4L557.6 1250.2L558.6 1248.8L559.6 1247.2L560.6 1245.5L561.6 1243.6L562.6 1241.5L563.6 1239.4L564.6 1237.1L565.6 1234.7L566.6 1232.2L567.6 1229.6L568.6 1227L569.6 1224.3L570.6 1221.6L571.6 1218.8L572.6 1216L573.6 1213.3L574.6 1210.5L575.6 1207.8L576.6 1205.1L577.6 1202.5L578.6 1200L579.6 1197.5L580.6 1195.2L581.6 1192.9L582.6 1190.8L583.6 1188.9L584.6 1187.1L585.6 1185.4L586.6 1184L587.6 1182.7L588.6 1181.5L589.6 1180.6L590.6 1179.8L591.6 1179.2L592.6 1178.8L593.6 1178.6L594.6 1178.6L595.6 1178.8L596.6 1179.2L597.6 1179.7L598.6 1180.5L599.6 1181.4L600.6 1182.4L601.6 1183.6L602.6 1185L603.6 1186.5L604.6 1188.2L605.6 1189.9L606.6 1191.8L607.6 1193.8L608.6 1195.9L609.6 1198.1L610.6 1200.4L611.6 1202.7L612.6 1205.1L613.6 1207.5L614.6 1210L615.6 1212.5L616.6 1214.9L617.6 1217.4L618.6 1219.9L619.6 1222.4L620.6 1224.8L621.6 1227.1L622.6 1229.4L623.6 1231.7L624.6 1233.8L625.6 1235.8L626.6 1237.8L627.6 1239.5L628.6 1241.2L629.6 1242.7L630.6 1244.1L631.6 1245.3L632.6 1246.4L633.6 1247.4L634.6 1248.2L635.6 1248.8L636.6 1249.3L637.6 1249.6L638.6 1249.8L639.6 1249.8L640.6 1249.6L641.6 1249.3L642.6 1248.9L643.6 1248.3L644.6 1247.6L645.6 1246.8L646.6 1245.9L647.6 1244.8L648.6 1243.7L649.6 1242.5L650.6 1241.2L651.6 1239.8L652.6 1238.3L653.6 1236.8L654.6 1235.3L655.6 1233.7L656.6 1232.1L657.6 1230.4L658.6 1228.8L659.6 1227.1L660.6 1225.5L661.6 1223.9L662.6 1222.3L663.6 1220.7L664.6 1219.2L665.6 1217.8L666.6 1216.4L667.6 1215.2L668.6 1214L669.6 1212.9L670.6 1211.9L671.6 1211L672.6 1210.3L673.6 1209.6L674.6 1209.1L675.6 1208.6L676.6 1208.3L677.6 1208.2L678.6 1208.1L679.6 1208.2L680.6 1208.4L681.6 1208.7L682.6 1209.1L683.6 1209.6L684.6 1210.2L685.6 1211L686.6 1211.8L687.6 1212.7L688.6 1213.7L689.6 1214.8L690.6 1216L691.6 1217.2L692.6 1218.5L693.6 1219.9L694.6 1221.3L695.6 1222.7L696.6 1224.2L697.6 1225.7L698.6 1227.2L699.6 1228.7L700.6 1230.2L701.6 1231.7L702.6 1233.2" stroke="#0000ff" stroke-width="4.7" fill="none" stroke-linejoin="round"/>
<text x="112.5" y="1266.5" font-size="33.6" text-anchor="end" fill="#000"  class="t">0.0</text>
<text x="112.5" y="1165.6" font-size="33.6" text-anchor="end" fill="#000"  class="t">1.0</text>
<text x="112.5" y="1063.3" font-size="33.6" text-anchor="end" fill="#000"  class="t">2.0</text>
<text x="112.5" y="957.7" font-size="33.6" text-anchor="end" fill="#000"  class="t">3.0</text>
<text x="112.5" y="853.8" font-size="33.6" text-anchor="end" fill="#000"  class="t">4.0</text>
<text x="112.5" y="752.5" font-size="33.6" text-anchor="end" fill="#000"  class="t">5.0</text>
<text x="128.1" y="1297.8" font-size="33.6" text-anchor="middle" fill="#000"  class="t">-0.5</text>
<text x="414.2" y="1299.8" font-size="33.6" text-anchor="middle" fill="#000"  class="t">0.0</text>
<text x="699.5" y="1297.8" font-size="33.6" text-anchor="middle" fill="#000"  class="t">0.5</text>
<text x="419" y="1342.5" font-size="34.2" text-anchor="middle" fill="#000"  class="t"><tspan font-style="italic">y</tspan> (μm)</text>
<text class="t" transform="translate(46.5 975) rotate(-90)" font-size="33.6" text-anchor="middle">intensity (a.u.)</text>
<text x="143.5" y="779" font-size="33.6" text-anchor="start" fill="#000"  class="t">(c)</text>
<path d="M393.6 1048H580" stroke="#000" stroke-width="2.8" fill="none"/>
<path d="M387.6 1048l14 -4.2v8.4z M439.5 1048l-11.5 -4.2v8.4z" fill="#000"/>
<text x="466" y="1034.7" font-size="34" text-anchor="start" fill="#000" textLength="209.5" class="t">FWHM=98 nm</text>
<rect x="870.4" y="739.6" width="570.3" height="517.4" fill="none" stroke="#2b2b2b" stroke-width="5.4"/>
<path d="M1155.5 1257v-8.5M1155.5 739.6v8.5M870.4 1153.5h8.5M1440.7 1153.5h-8.5M870.4 1050h8.5M1440.7 1050h-8.5M870.4 946.6h8.5M1440.7 946.6h-8.5M870.4 843.1h8.5M1440.7 843.1h-8.5" stroke="#2b2b2b" stroke-width="5" fill="none"/>
<path clip-path="url(#cd)" d="M867.4 1225.4L868.4 1223.5L869.4 1221.6L870.4 1219.6L871.4 1217.7L872.4 1215.8L873.4 1213.9L874.4 1212L875.4 1210.2L876.4 1208.5L877.4 1206.8L878.4 1205.2L879.4 1203.7L880.4 1202.3L881.4 1201L882.4 1199.9L883.4 1198.8L884.4 1197.8L885.4 1197L886.4 1196.3L887.4 1195.8L888.4 1195.3L889.4 1195L890.4 1194.9L891.4 1194.9L892.4 1195.1L893.4 1195.4L894.4 1195.9L895.4 1196.5L896.4 1197.2L897.4 1198.1L898.4 1199.1L899.4 1200.2L900.4 1201.5L901.4 1202.9L902.4 1204.4L903.4 1206L904.4 1207.6L905.4 1209.4L906.4 1211.2L907.4 1213.1L908.4 1215L909.4 1217L910.4 1219L911.4 1221L912.4 1223L913.4 1225L914.4 1227L915.4 1228.9L916.4 1230.8L917.4 1232.6L918.4 1234.4L919.4 1236.1L920.4 1237.7L921.4 1239.3L922.4 1240.7L923.4 1242L924.4 1243.2L925.4 1244.3L926.4 1245.2L927.4 1246L928.4 1246.7L929.4 1247.2L930.4 1247.5L931.4 1247.7L932.4 1247.7L933.4 1247.5L934.4 1247.1L935.4 1246.6L936.4 1245.8L937.4 1244.9L938.4 1243.9L939.4 1242.7L940.4 1241.3L941.4 1239.7L942.4 1238L943.4 1236.2L944.4 1234.2L945.4 1232L946.4 1229.8L947.4 1227.4L948.4 1225L949.4 1222.5L950.4 1219.9L951.4 1217.3L952.4 1214.6L953.4 1212L954.4 1209.3L955.4 1206.6L956.4 1204L957.4 1201.4L958.4 1198.8L959.4 1196.4L960.4 1193.9L961.4 1191.6L962.4 1189.4L963.4 1187.3L964.4 1185.3L965.4 1183.4L966.4 1181.7L967.4 1180.1L968.4 1178.7L969.4 1177.5L970.4 1176.5L971.4 1175.6L972.4 1174.9L973.4 1174.4L974.4 1174.2L975.4 1174.1L976.4 1174.3L977.4 1174.6L978.4 1175.2L979.4 1176L980.4 1177L981.4 1178.1L982.4 1179.5L983.4 1181.1L984.4 1182.8L985.4 1184.7L986.4 1186.8L987.4 1189L988.4 1191.4L989.4 1194L990.4 1196.6L991.4 1199.4L992.4 1202.2L993.4 1205.1L994.4 1208L995.4 1211L996.4 1214L997.4 1217L998.4 1220L999.4 1223L1000.4 1225.9L1001.4 1228.7L1002.4 1231.5L1003.4 1234.2L1004.4 1236.9L1005.4 1239.4L1006.4 1241.7L1007.4 1244L1008.4 1246L1009.4 1247.9L1010.4 1249.7L1011.4 1251.2L1012.4 1252.6L1013.4 1253.7L1014.4 1254.6L1015.4 1255.3L1016.4 1255.8L1017.4 1256L1018.4 1256L1019.4 1255.7L1020.4 1255.1L1021.4 1254.3L1022.4 1253.2L1023.4 1251.9L1024.4 1250.4L1025.4 1248.6L1026.4 1246.5L1027.4 1244.3L1028.4 1241.8L1029.4 1239.1L1030.4 1236.3L1031.4 1233.2L1032.4 1230L1033.4 1226.6L1034.4 1223.2L1035.4 1219.6L1036.4 1216L1037.4 1212.3L1038.4 1208.6L1039.4 1204.9L1040.4 1201.2L1041.4 1197.6L1042.4 1194L1043.4 1190.4L1044.4 1187L1045.4 1183.7L1046.4 1180.5L1047.4 1177.4L1048.4 1174.5L1049.4 1171.8L1050.4 1169.3L1051.4 1167L1052.4 1164.9L1053.4 1163.1L1054.4 1161.5L1055.4 1160.2L1056.4 1159.2L1057.4 1158.4L1058.4 1158L1059.4 1157.9L1060.4 1158.1L1061.4 1158.6L1062.4 1159.5L1063.4 1160.7L1064.4 1162.2L1065.4 1163.9L1066.4 1166L1067.4 1168.4L1068.4 1171.1L1069.4 1174L1070.4 1177.2L1071.4 1180.6L1072.4 1184.2L1073.4 1188L1074.4 1191.9L1075.4 1196L1076.4 1200.1L1077.4 1204.3L1078.4 1208.5L1079.4 1212.6L1080.4 1216.8L1081.4 1220.9L1082.4 1224.8L1083.4 1228.7L1084.4 1232.4L1085.4 1235.9L1086.4 1239.2L1087.4 1242.2L1088.4 1245L1089.4 1247.5L1090.4 1249.7L1091.4 1251.6L1092.4 1253.2L1093.4 1254.5L1094.4 1255.5L1095.4 1256.1L1096.4 1256.5L1097.4 1256.5L1098.4 1256.1L1099.4 1255.3L1100.4 1254.1L1101.4 1252.3L1102.4 1250.1L1103.4 1247.3L1104.4 1243.9L1105.4 1239.9L1106.4 1235.4L1107.4 1230.2L1108.4 1224.5L1109.4 1218.2L1110.4 1211.3L1111.4 1203.8L1112.4 1195.7L1113.4 1187.1L1114.4 1178L1115.4 1168.4L1116.4 1158.3L1117.4 1147.8L1118.4 1136.8L1119.4 1125.4L1120.4 1113.7L1121.4 1101.6L1122.4 1089.3L1123.4 1076.7L1124.4 1063.9L1125.4 1050.9L1126.4 1037.8L1127.4 1024.6L1128.4 1011.3L1129.4 998L1130.4 984.8L1131.4 971.6L1132.4 958.6L1133.4 945.8L1134.4 933.1L1135.4 920.7L1136.4 908.6L1137.4 896.9L1138.4 885.5L1139.4 874.5L1140.4 864L1141.4 854L1142.4 844.5L1143.4 835.6L1144.4 827.2L1145.4 819.5L1146.4 812.4L1147.4 805.9L1148.4 800.2L1149.4 795.1L1150.4 790.8L1151.4 787.3L1152.4 784.4L1153.4 782.4L1154.4 781.1L1155.4 780.6L1156.4 780.9L1157.4 781.9L1158.4 783.7L1159.4 786.3L1160.4 789.7L1161.4 793.8L1162.4 798.6L1163.4 804.1L1164.4 810.4L1165.4 817.3L1166.4 824.8L1167.4 833L1168.4 841.8L1169.4 851.1L1170.4 861L1171.4 871.3L1172.4 882.2L1173.4 893.4L1174.4 905.1L1175.4 917.1L1176.4 929.4L1177.4 942L1178.4 954.7L1179.4 967.7L1180.4 980.8L1181.4 994.1L1182.4 1007.3L1183.4 1020.6L1184.4 1033.8L1185.4 1047L1186.4 1060L1187.4 1072.9L1188.4 1085.5L1189.4 1098L1190.4 1110.1L1191.4 1121.9L1192.4 1133.4L1193.4 1144.5L1194.4 1155.2L1195.4 1165.4L1196.4 1175.2L1197.4 1184.5L1198.4 1193.2L1199.4 1201.4L1200.4 1209.1L1201.4 1216.1L1202.4 1222.7L1203.4 1228.6L1204.4 1233.9L1205.4 1238.6L1206.4 1242.8L1207.4 1246.3L1208.4 1249.3L1209.4 1251.7L1210.4 1253.6L1211.4 1255L1212.4 1255.9L1213.4 1256.4L1214.4 1256.5L1215.4 1256.3L1216.4 1255.7L1217.4 1254.8L1218.4 1253.6L1219.4 1252.1L1220.4 1250.3L1221.4 1248.2L1222.4 1245.8L1223.4 1243.1L1224.4 1240.1L1225.4 1236.9L1226.4 1233.4L1227.4 1229.8L1228.4 1226L1229.4 1222.1L1230.4 1218L1231.4 1213.9L1232.4 1209.7L1233.4 1205.5L1234.4 1201.3L1235.4 1197.2L1236.4 1193.1L1237.4 1189.2L1238.4 1185.3L1239.4 1181.7L1240.4 1178.2L1241.4 1174.9L1242.4 1171.9L1243.4 1169.2L1244.4 1166.7L1245.4 1164.5L1246.4 1162.7L1247.4 1161.1L1248.4 1159.8L1249.4 1158.9L1250.4 1158.2L1251.4 1157.9L1252.4 1157.9L1253.4 1158.3L1254.4 1158.9L1255.4 1159.9L1256.4 1161.1L1257.4 1162.6L1258.4 1164.4L1259.4 1166.4L1260.4 1168.6L1261.4 1171L1262.4 1173.7L1263.4 1176.5L1264.4 1179.5L1265.4 1182.7L1266.4 1186L1267.4 1189.4L1268.4 1192.9L1269.4 1196.5L1270.4 1200.1L1271.4 1203.8L1272.4 1207.5L1273.4 1211.2L1274.4 1214.9L1275.4 1218.5L1276.4 1222.1L1277.4 1225.6L1278.4 1229L1279.4 1232.2L1280.4 1235.4L1281.4 1238.3L1282.4 1241L1283.4 1243.6L1284.4 1245.9L1285.4 1248L1286.4 1249.8L1287.4 1251.5L1288.4 1252.8L1289.4 1254L1290.4 1254.9L1291.4 1255.5L1292.4 1255.9L1293.4 1256L1294.4 1255.9L1295.4 1255.5L1296.4 1254.9L1297.4 1254L1298.4 1252.9L1299.4 1251.6L1300.4 1250.1L1301.4 1248.5L1302.4 1246.6L1303.4 1244.6L1304.4 1242.4L1305.4 1240.1L1306.4 1237.6L1307.4 1235L1308.4 1232.4L1309.4 1229.6L1310.4 1226.7L1311.4 1223.8L1312.4 1220.9L1313.4 1217.9L1314.4 1214.9L1315.4 1211.9L1316.4 1208.9L1317.4 1206L1318.4 1203L1319.4 1200.2L1320.4 1197.4L1321.4 1194.7L1322.4 1192.2L1323.4 1189.7L1324.4 1187.4L1325.4 1185.3L1326.4 1183.3L1327.4 1181.6L1328.4 1179.9L1329.4 1178.5L1330.4 1177.3L1331.4 1176.2L1332.4 1175.4L1333.4 1174.8L1334.4 1174.3L1335.4 1174.1L1336.4 1174.1L1337.4 1174.3L1338.4 1174.8L1339.4 1175.4L1340.4 1176.2L1341.4 1177.2L1342.4 1178.4L1343.4 1179.7L1344.4 1181.2L1345.4 1182.9L1346.4 1184.7L1347.4 1186.6L1348.4 1188.7L1349.4 1190.9L1350.4 1193.2L1351.4 1195.6L1352.4 1198.1L1353.4 1200.6L1354.4 1203.2L1355.4 1205.8L1356.4 1208.5L1357.4 1211.2L1358.4 1213.8L1359.4 1216.5L1360.4 1219.1L1361.4 1221.7L1362.4 1224.2L1363.4 1226.7L1364.4 1229.1L1365.4 1231.4L1366.4 1233.5L1367.4 1235.6L1368.4 1237.5L1369.4 1239.2L1370.4 1240.8L1371.4 1242.3L1372.4 1243.5L1373.4 1244.6L1374.4 1245.6L1375.4 1246.4L1376.4 1247L1377.4 1247.4L1378.4 1247.6L1379.4 1247.7L1380.4 1247.6L1381.4 1247.3L1382.4 1246.9L1383.4 1246.3L1384.4 1245.5L1385.4 1244.6L1386.4 1243.6L1387.4 1242.4L1388.4 1241.1L1389.4 1239.7L1390.4 1238.2L1391.4 1236.6L1392.4 1234.9L1393.4 1233.2L1394.4 1231.3L1395.4 1229.5L1396.4 1227.5L1397.4 1225.6L1398.4 1223.6L1399.4 1221.6L1400.4 1219.6L1401.4 1217.6L1402.4 1215.6L1403.4 1213.7L1404.4 1211.8L1405.4 1209.9L1406.4 1208.2L1407.4 1206.5L1408.4 1204.8L1409.4 1203.3L1410.4 1201.9L1411.4 1200.6L1412.4 1199.4L1413.4 1198.4L1414.4 1197.5L1415.4 1196.7L1416.4 1196L1417.4 1195.5L1418.4 1195.2L1419.4 1195L1420.4 1194.9L1421.4 1195L1422.4 1195.2L1423.4 1195.6L1424.4 1196.1L1425.4 1196.8L1426.4 1197.6L1427.4 1198.5L1428.4 1199.5L1429.4 1200.7L1430.4 1201.9L1431.4 1203.3L1432.4 1204.8L1433.4 1206.4L1434.4 1208L1435.4 1209.7L1436.4 1211.5L1437.4 1213.3L1438.4 1215.2L1439.4 1217.1L1440.4 1219L1441.4 1221L1442.4 1222.9L1443.4 1224.9" stroke="#0000ff" stroke-width="4.7" fill="none" stroke-linejoin="round"/>
<text x="853.5" y="1267.8" font-size="33.6" text-anchor="end" fill="#000"  class="t">0.0</text>
<text x="853.5" y="1165.8" font-size="33.6" text-anchor="end" fill="#000"  class="t">1.0</text>
<text x="853.5" y="1062.3" font-size="33.6" text-anchor="end" fill="#000"  class="t">2.0</text>
<text x="853.5" y="957.9" font-size="33.6" text-anchor="end" fill="#000"  class="t">3.0</text>
<text x="853.5" y="853.9" font-size="33.6" text-anchor="end" fill="#000"  class="t">4.0</text>
<text x="853.5" y="752.4" font-size="33.6" text-anchor="end" fill="#000"  class="t">5.0</text>
<text x="868.9" y="1297.8" font-size="33.6" text-anchor="middle" fill="#000"  class="t">-0.5</text>
<text x="1154.8" y="1299.8" font-size="33.6" text-anchor="middle" fill="#000"  class="t">0.0</text>
<text x="1440" y="1297.8" font-size="33.6" text-anchor="middle" fill="#000"  class="t">0.5</text>
<text x="1159.5" y="1342.5" font-size="34.2" text-anchor="middle" fill="#000"  class="t"><tspan font-style="italic">y</tspan> (μm)</text>
<text class="t" transform="translate(787.5 975) rotate(-90)" font-size="33.6" text-anchor="middle">intensity (a.u.)</text>
<text x="883" y="780" font-size="33.6" text-anchor="start" fill="#000"  class="t">(d)</text>
<path d="M1135.3 1017.1H1322.4" stroke="#000" stroke-width="2.8" fill="none"/>
<path d="M1129.3 1017.1l14 -4.2v8.4z M1181 1017.1l-11.5 -4.2v8.4z" fill="#000"/>
<text x="1204.9" y="1002.9" font-size="34" text-anchor="start" fill="#000" textLength="209.5" class="t">FWHM=98 nm</text>
</svg>
</body></html>
